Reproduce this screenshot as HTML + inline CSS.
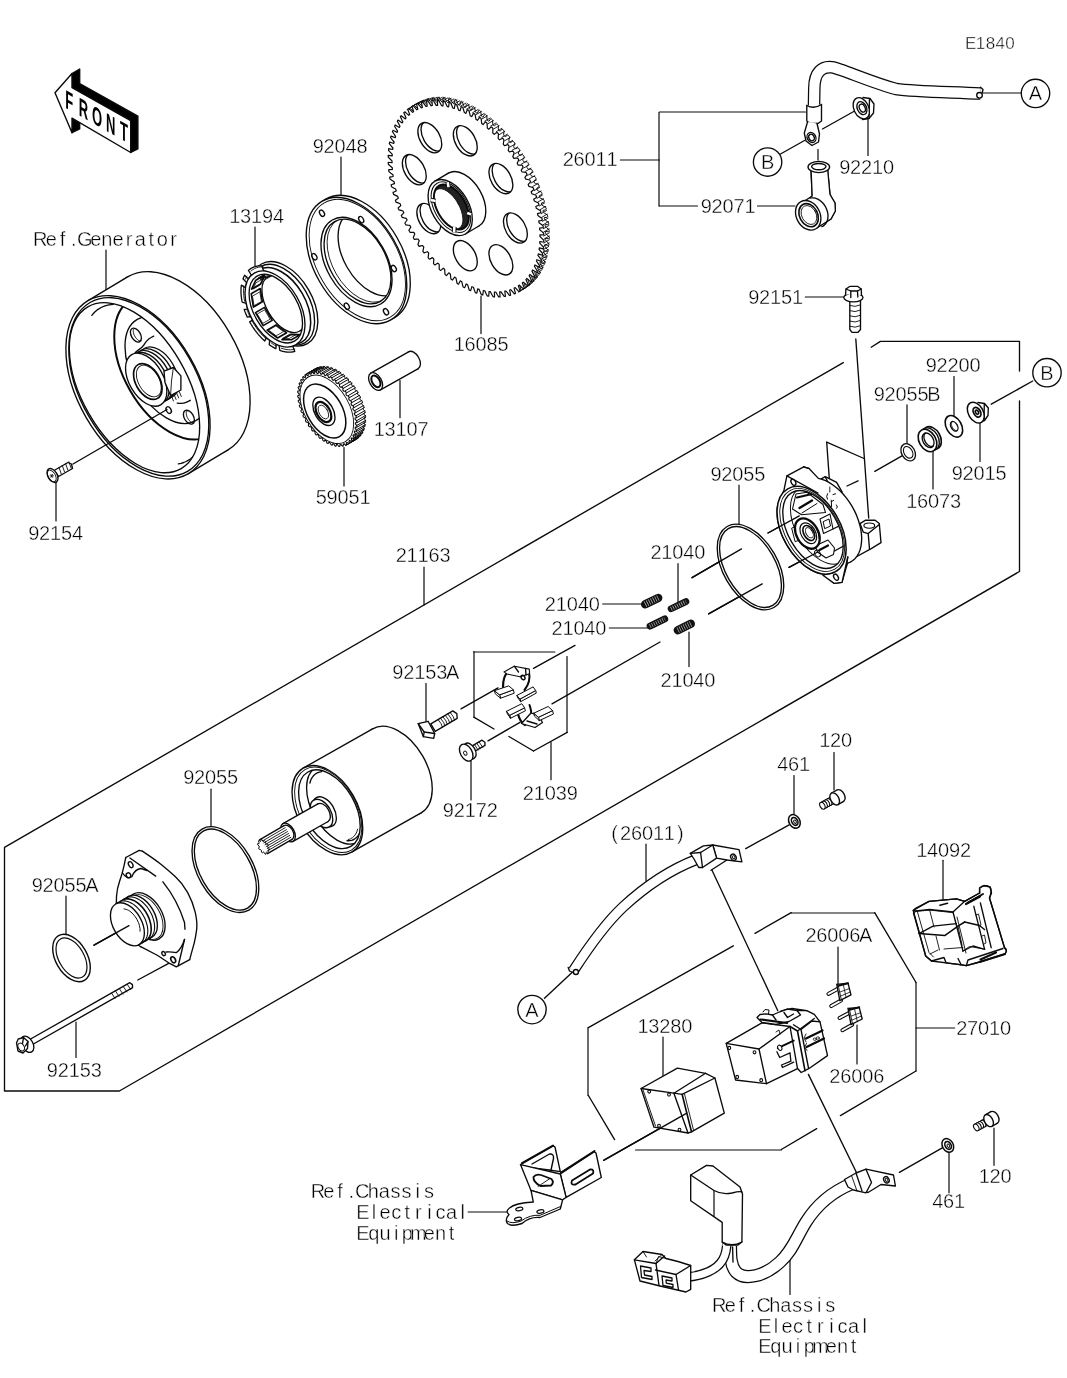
<!DOCTYPE html>
<html lang="en"><head><meta charset="utf-8"><title>Starter Motor - E1840</title>
<style>
html,body{margin:0;padding:0;background:#fff}
svg{display:block;will-change:transform}
svg path,svg ellipse,svg circle,svg polygon,svg rect{fill:none;stroke:#0a0a0a;stroke-width:1.35;stroke-linecap:round;stroke-linejoin:round}
svg text{font-family:"Liberation Sans",sans-serif;fill:#000;stroke:#fff;stroke-width:0.4px;text-anchor:middle}
</style></head><body>
<svg width="1067" height="1378" viewBox="0 0 1067 1378">
<rect x="0" y="0" width="1067" height="1378" style="fill:#fff;stroke:none"/>
<path d="M341 157L341 195.5" style="stroke-width:1.2"/>
<path d="M255 227L255 266.5" style="stroke-width:1.2"/>
<path d="M106 250L106 297" style="stroke-width:1.2"/>
<path d="M481 296L481 333.6" style="stroke-width:1.2"/>
<path d="M400 380.6L400 417.7" style="stroke-width:1.2"/>
<path d="M344 447.5L344 486" style="stroke-width:1.2"/>
<path d="M620.4 160L659.4 160" style="stroke-width:1.2"/>
<path d="M659 112.5L659 206" style="stroke-width:1.2"/>
<path d="M659.4 112L805.4 112" style="stroke-width:1.2"/>
<path d="M659.4 206L697.5 206" style="stroke-width:1.2"/>
<path d="M757.5 206L795 206" style="stroke-width:1.2"/>
<path d="M868 117L868 155.5" style="stroke-width:1.2"/>
<path d="M780.5 154L804.5 140.5"/>
<path d="M822.5 129L855.5 110.5"/>
<path d="M818 149.5L818 160" style="stroke-width:1.2"/>
<path d="M983 93L1021.4 93" style="stroke-width:1.2"/>
<path d="M805.3 297L844.2 297" style="stroke-width:1.2"/>
<path d="M855.8 339L868.7 518"/>
<path d="M954 376.6L954 415.6" style="stroke-width:1.2"/>
<path d="M907 404.8L907 444.5" style="stroke-width:1.2"/>
<path d="M933 451L933 489" style="stroke-width:1.2"/>
<path d="M980 422.5L980 461.5" style="stroke-width:1.2"/>
<path d="M1032.7 381L991.3 404.2"/>
<path d="M874.8 471.3L905.5 453.9"/>
<path d="M847 486L858 480.8"/>
<path d="M826.7 442.2L864 458.5"/>
<path d="M826.7 442.2L829.5 481.5"/>
<path d="M739 485L739 524" style="stroke-width:1.2"/>
<path d="M692 577.7L741.5 548.9"/>
<path d="M708.6 613.8L762.2 583.9"/>
<path d="M768 533L812 508.7"/>
<path d="M789 567.4L817.8 552"/>
<path d="M424 567.1L424 604.9" style="stroke-width:1.2"/>
<path d="M678 563.7L678 602" style="stroke-width:1.2"/>
<path d="M602.7 604L641.5 604" style="stroke-width:1.2"/>
<path d="M609.4 628L648.2 628" style="stroke-width:1.2"/>
<path d="M689 632L689 666.6" style="stroke-width:1.2"/>
<path d="M533.5 668.3L575 645.4"/>
<path d="M552 703.8L660 642"/>
<path d="M473.8 652L554.8 652" style="stroke-width:1.2"/>
<path d="M474 651.5L474 717.2" style="stroke-width:1.2"/>
<path d="M473.8 717.2L494 729"/>
<path d="M508.9 736.5L533.5 751"/>
<path d="M533.5 751L567.2 732.4"/>
<path d="M567 732.4L567 656.5" style="stroke-width:1.2"/>
<path d="M551 742.5L551 779.7" style="stroke-width:1.2"/>
<path d="M426 683.5L426 722.3" style="stroke-width:1.2"/>
<path d="M461 708.8L498 687.9"/>
<path d="M471 761L471 800" style="stroke-width:1.2"/>
<path d="M488 740.9L520 722.3"/>
<path d="M211 789.2L211 827.3" style="stroke-width:1.2"/>
<path d="M66 896L66 934.7" style="stroke-width:1.2"/>
<path d="M94 945.2L129 925.7"/>
<path d="M137.8 980L171.9 961.7"/>
<path d="M76 1022L76 1057.5" style="stroke-width:1.2"/>
<path d="M646 844L646 880.7" style="stroke-width:1.2"/>
<path d="M544.5 998.2L572.3 972.2"/>
<path d="M794 775.6L794 814.8" style="stroke-width:1.2"/>
<path d="M745.7 848.6L789.2 824.8"/>
<path d="M834 752.5L834 789.9" style="stroke-width:1.2"/>
<path d="M711.9 870L777.8 1010.7"/>
<path d="M943 860.3L943 899.3" style="stroke-width:1.2"/>
<path d="M838 947L838 984" style="stroke-width:1.2"/>
<path d="M857 1025L857 1064" style="stroke-width:1.2"/>
<path d="M916 1028L954.6 1028" style="stroke-width:1.2"/>
<path d="M663 1037L663 1075.6" style="stroke-width:1.2"/>
<path d="M755 933.3L791.2 912.7"/>
<path d="M791.2 913L874.7 913" style="stroke-width:1.2"/>
<path d="M874.7 912.7L916 982.5"/>
<path d="M916 982.5L916 1071" style="stroke-width:1.2"/>
<path d="M916 1071L840.4 1115.6"/>
<path d="M733.3 945.8L588.4 1027.6"/>
<path d="M588 1027.6L588 1095.5" style="stroke-width:1.2"/>
<path d="M588.4 1095.5L614.6 1139.6"/>
<path d="M635.6 1150L781.3 1150" style="stroke-width:1.2"/>
<path d="M781.3 1149.5L816.7 1128.7"/>
<path d="M603.6 1160.4L686.8 1113.1"/>
<path d="M808.4 1074.4L866 1192"/>
<path d="M899.4 1172.4L942.7 1147.6"/>
<path d="M949 1151.5L949 1192.8" style="stroke-width:1.2"/>
<path d="M994 1128L994 1165.3" style="stroke-width:1.2"/>
<path d="M468.2 1212L507 1212" style="stroke-width:1.2"/>
<path d="M790 1257.8L790 1294.4" style="stroke-width:1.2"/>
<path d="M843.3 362.6L4.5 847.4L4.5 1091L119.4 1091L1019.5 571.5L1019.5 401"/>
<path d="M871.2 347.2L880.4 341.4L1019.5 341.4L1019.5 371"/>
<circle cx="1035.5" cy="93.4" r="14.2" style="fill:#fff"/>
<text x="1035.5" y="100.4" font-size="20">A</text>
<circle cx="767.6" cy="162" r="14.2" style="fill:#fff"/>
<text x="767.6" y="169" font-size="20">B</text>
<circle cx="1047" cy="372.7" r="14.2" style="fill:#fff"/>
<text x="1047" y="379.7" font-size="20">B</text>
<circle cx="532" cy="1009.6" r="14.2" style="fill:#fff"/>
<text x="532" y="1016.6" font-size="20">A</text>
<path d="M72 73.5L79.7 69L79.7 83.5L137.9 116.2L137.9 148.8L130.7 152.5L130.7 120.7L72 87.7Z" style="fill:#000;"/>
<path d="M72 118.2L79.7 123L79.7 129L72 132.7Z" style="fill:#000;"/>
<path d="M55 92.7L72 73.5L72 87.7L130.7 120.7L130.7 152.5L72 118.2L72 132.7Z" style="fill:#fff;stroke-width:1.4;"/>
<text transform="matrix(0.5 0.281 0 1 69.2 110)" x="0" y="0" font-size="26" font-weight="bold" style="fill:#000;stroke:none">F</text>
<text transform="matrix(0.5 0.281 0 1 83.5 118)" x="0" y="0" font-size="26" font-weight="bold" style="fill:#000;stroke:none">R</text>
<text transform="matrix(0.5 0.281 0 1 97 125.6)" x="0" y="0" font-size="26" font-weight="bold" style="fill:#000;stroke:none">O</text>
<text transform="matrix(0.5 0.281 0 1 110.8 133.4)" x="0" y="0" font-size="26" font-weight="bold" style="fill:#000;stroke:none">N</text>
<text transform="matrix(0.5 0.281 0 1 124 140.8)" x="0" y="0" font-size="26" font-weight="bold" style="fill:#000;stroke:none">T</text>
<ellipse cx="178" cy="363.3" rx="60" ry="100" transform="rotate(-30 178 363.3)" style="fill:#fff;"/>
<path d="M188 473.9L228 449.9L128 276.7L88 300.7Z" style="fill:#fff;stroke:none;"/>
<path d="M188 473.9L228 449.9"/>
<path d="M88 300.7L128 276.7"/>
<ellipse cx="138" cy="387.3" rx="60" ry="100" transform="rotate(-30 138 387.3)" style="fill:#fff;"/>
<ellipse cx="138.8" cy="386.9" rx="58" ry="97.5" transform="rotate(-30 138.8 386.9)"/>
<ellipse cx="134.5" cy="387.7" rx="52.5" ry="93.4" transform="rotate(-30 134.5 387.7)" style="fill:#fff;"/>
<clipPath id="fwc"><ellipse cx="134.5" cy="387.7" rx="52.5" ry="93.4" transform="rotate(-30 134.5 387.7)"/></clipPath>
<g clip-path="url(#fwc)">
<ellipse cx="170.5" cy="367.5" rx="46.5" ry="78.5" transform="rotate(-30 170.5 367.5)" style="stroke-width:2.0;"/>
<ellipse cx="166.5" cy="370" rx="34" ry="58.5" transform="rotate(-30 166.5 370)"/>
<path d="M91.8 315.4L94.5 312.3L97.7 309.6L101.1 307.5L104.9 305.9L108.9 304.9L113.2 304.4"/>
<path d="M192.7 457L190.7 458.7L188.5 460.2L186.1 461.5L183.7 462.5L181.1 463.3L178.4 463.8"/>
<ellipse cx="135.9" cy="335.1" rx="4.6" ry="7.6" transform="rotate(-30 135.9 335.1)"/>
<path d="M140.9 340.9L140.5 340.9L140.1 340.9L139.6 340.8L139.1 340.6L138.6 340.4L138.1 340.1L137.6 339.7L137.1 339.2L136.6 338.8L136.2 338.2L135.7 337.7L135.3 337L134.9 336.4L134.5 335.7L134.2 335.1L133.9 334.4L133.7 333.7L133.5 333L133.4 332.4L133.3 331.8L133.3 331.2L133.3 330.6L133.4 330.1L133.6 329.7L133.8 329.3L134 328.9" style="stroke-width:1.0;"/>
<ellipse cx="188.9" cy="417.2" rx="4.6" ry="7.6" transform="rotate(-30 188.9 417.2)"/>
<path d="M193.9 423L193.5 423L193.1 423L192.6 422.9L192.1 422.7L191.6 422.5L191.1 422.2L190.6 421.8L190.1 421.3L189.6 420.9L189.2 420.3L188.7 419.8L188.3 419.1L187.9 418.5L187.5 417.8L187.2 417.2L186.9 416.5L186.7 415.8L186.5 415.1L186.4 414.5L186.3 413.9L186.3 413.3L186.3 412.7L186.4 412.2L186.6 411.8L186.8 411.4L187 411" style="stroke-width:1.0;"/>
<path d="M129.4 360.9Q134 353 138.2 350.1Q142.5 347.3 143.8 345.1Q145 343 146.8 340.9Q148.5 338.8 151.1 337.5L153.7 336.1"/>
<path d="M177.2 403.1Q183 404 186.7 402.1L190.3 400.3"/>
<ellipse cx="158.6" cy="372.5" rx="16.5" ry="28" transform="rotate(-30 158.6 372.5)" style="fill:#fff;"/>
<ellipse cx="155.5" cy="374.3" rx="16.5" ry="28" transform="rotate(-30 155.5 374.3)" style="fill:#fff;"/>
<ellipse cx="152.4" cy="376.1" rx="16.5" ry="28" transform="rotate(-30 152.4 376.1)" style="fill:#fff;"/>
<ellipse cx="149.3" cy="377.9" rx="16.5" ry="28" transform="rotate(-30 149.3 377.9)" style="fill:#fff;"/>
<ellipse cx="146.2" cy="379.7" rx="17" ry="29" transform="rotate(-30 146.2 379.7)" style="fill:#fff;"/>
<path d="M164 371.2L173.4 367.5L180.9 375.9L180.9 390L170.6 395.6L165 382.5Z" style="fill:#fff;"/>
<path d="M173.4 367.5L171.5 381L170.6 395.6" style="stroke-width:0.9;"/>
<path d="M171.5 396.2L173.5 401" style="stroke-width:0.9"/>
<path d="M174.1 394.7L176.1 399.5" style="stroke-width:0.9"/>
<path d="M176.7 393.2L178.7 398" style="stroke-width:0.9"/>
<path d="M179.3 391.7L181.3 396.5" style="stroke-width:0.9"/>
<ellipse cx="147.8" cy="381.5" rx="12" ry="19.5" transform="rotate(-30 147.8 381.5)" style="fill:#fff;stroke-width:1.7;"/>
<ellipse cx="148.8" cy="381" rx="10.3" ry="17.3" transform="rotate(-30 148.8 381)" style="stroke-width:0.9;"/>
<ellipse cx="168.7" cy="410.1" rx="2.3" ry="3.6" transform="rotate(-30 168.7 410.1)" style="fill:#fff;"/>
</g>
<path d="M56 479L56 521" style="stroke-width:1.2"/>
<path d="M73 464L167 409.5"/>
<path d="M54 470.5L68 462.5L71.5 464L72.5 468.5L58.5 476.5Z" style="fill:#fff;"/>
<path d="M59 467.5L61.2 473.7" style="stroke-width:0.9"/>
<path d="M62.3 465.6L64.5 471.8" style="stroke-width:0.9"/>
<path d="M65.6 463.7L67.8 469.9" style="stroke-width:0.9"/>
<path d="M68.9 461.8L71.1 468" style="stroke-width:0.9"/>
<ellipse cx="52.5" cy="475.5" rx="4.6" ry="7.6" transform="rotate(-30 52.5 475.5)" style="fill:#fff;"/>
<ellipse cx="51.8" cy="475.9" rx="3.6" ry="6.3" transform="rotate(-30 51.8 475.9)" style="stroke-width:0.9;"/>
<path d="M50.1 475.9L53.5 475.9" style="stroke-width:0.8"/>
<path d="M50.9 474.4L52.6 477.4" style="stroke-width:0.8"/>
<path d="M52.6 474.4L50.9 477.4" style="stroke-width:0.8"/>
<path d="M410.1 111.4L409.5 109.4L409.9 109L410.4 108.5L412.9 111L414.4 112L414.8 111.6L415.3 111.2L413.8 107.9L413.3 106L413.9 105.6L414.4 105.2L416.8 107.9L418.2 109L418.7 108.7L419.2 108.3L417.9 104.9L417.6 103.1L418.1 102.8L418.7 102.5L421.1 105.3L422.4 106.5L423 106.2L423.5 105.9L422.4 102.5L422.2 100.7L422.8 100.5L423.4 100.3L425.6 103.3L426.9 104.6L427.5 104.4L428 104.1L427.1 100.6L427.1 99L427.7 98.8L428.4 98.8L430.5 101.9L431.7 103.2L432.3 103.1L432.9 102.8L432.1 99.4L432.2 97.8L432.9 97.7L433.6 97.8L435.6 101.1L436.7 102.4L437.4 102.3L437.9 102.1L437.4 98.7L437.6 97.3L438.3 97.3L439.1 97.5L440.9 100.8L442 102.2L442.6 102.2L443.2 102L442.9 98.6L443.2 97.4L444 97.4L444.7 97.7L446.4 101.1L447.4 102.5L448.1 102.6L448.7 102.4L448.6 99.2L449 98L449.8 98.2L450.6 98.6L452 102.1L453 103.4L453.7 103.6L454.3 103.4L454.4 100.3L455 99.3L455.7 99.5L456.5 100.1L457.7 103.6L458.6 104.9L459.4 105.2L460 105L460.4 102L461 101.2L461.7 101.4L462.5 102.1L463.6 105.6L464.4 107L465.1 107.3L465.8 107.2L466.4 104.3L467.1 103.6L467.8 104L468.6 104.7L469.5 108.2L470.2 109.6L470.9 109.9L471.7 109.9L472.4 107.2L473.2 106.6L474 107.1L474.7 107.9L475.3 111.4L476 112.7L476.8 113.1L477.5 113.1L478.5 110.6L479.3 110.2L480.1 110.7L480.8 111.7L481.2 115L481.8 116.4L482.5 116.9L483.3 116.9L484.5 114.6L485.4 114.3L486.1 114.9L486.8 115.9L487 119.2L487.5 120.5L488.3 121L489.1 121.1L490.4 119L491.4 118.9L492.1 119.5L492.7 120.6L492.7 123.8L493.2 125.1L493.9 125.7L494.7 125.8L496.3 124L497.2 124L497.9 124.7L498.5 125.8L498.2 128.9L498.7 130.1L499.3 130.8L500.2 131L502 129.3L502.9 129.5L503.6 130.2L504.1 131.4L503.6 134.4L504 135.6L504.6 136.3L505.6 136.5L507.5 135.1L508.4 135.4L509.1 136.2L509.5 137.4L508.8 140.2L509.1 141.4L509.7 142.1L510.7 142.4L512.7 141.3L513.7 141.7L514.3 142.5L514.6 143.8L513.7 146.4L514 147.5L514.6 148.3L515.6 148.7L517.8 147.8L518.7 148.4L519.3 149.2L519.5 150.5L518.4 152.9L518.6 154L519.2 154.8L520.2 155.2L522.5 154.7L523.4 155.3L524 156.2L524.1 157.4L522.8 159.6L523 160.7L523.5 161.5L524.5 162L527 161.7L527.8 162.5L528.3 163.4L528.3 164.6L526.8 166.5L527 167.6L527.5 168.5L528.5 169.1L531.1 169L531.9 169.8L532.4 170.8L532.2 171.9L530.5 173.7L530.6 174.7L531.1 175.6L532.2 176.3L534.8 176.5L535.5 177.4L536 178.3L535.7 179.4L533.9 180.9L534 181.9L534.3 182.8L535.5 183.6L538.2 184.1L538.8 185L539.2 186L538.8 187L536.8 188.2L536.9 189.2L537.2 190.1L538.4 191L541.1 191.8L541.7 192.7L542 193.7L541.5 194.7L539.4 195.6L539.4 196.5L539.7 197.5L540.8 198.4L543.6 199.5L544.1 200.5L544.4 201.4L543.7 202.3L541.5 203L541.5 203.9L541.7 204.8L542.9 205.8L545.7 207.2L546.1 208.1L546.3 209.1L545.5 209.9L543.2 210.3L543.1 211.1L543.3 212.1L544.5 213.2L547.3 214.8L547.6 215.8L547.8 216.7L546.9 217.4L544.4 217.5L544.4 218.3L544.5 219.2L545.7 220.5L548.4 222.3L548.7 223.3L548.8 224.2L547.8 224.7L545.2 224.6L545.1 225.4L545.2 226.2L546.4 227.6L549.1 229.6L549.2 230.6L549.3 231.5L548.2 231.8L545.5 231.4L545.4 232.2L545.5 233.1L546.6 234.5L549.3 236.8L549.3 237.7L549.3 238.6L548.1 238.8L545.4 238.1L545.3 238.9L545.3 239.7L546.4 241.2L549 243.7L548.9 244.5L548.8 245.4L547.5 245.4L544.8 244.5L544.7 245.2L544.6 246L545.7 247.6L548.2 250.3L548.1 251.1L547.9 251.9L546.5 251.7L543.8 250.5L543.6 251.3L543.5 252L544.6 253.7L546.9 256.5L546.7 257.3L546.5 258L545 257.7L542.4 256.3L542.1 257L541.9 257.7L543 259.5L545.2 262.4L544.9 263.1L544.6 263.8L543.1 263.3L540.5 261.7L540.2 262.3L539.9 263L540.9 264.9L542.9 267.8L542.6 268.5L542.3 269.1L540.7 268.4L538.2 266.6L537.8 267.2L537.5 267.8L538.4 269.8L540.3 272.8L539.9 273.4L539.6 274L537.9 273.1L535.4 271.2L535.1 271.7L534.7 272.2L535.5 274.3L537.2 277.4L536.8 277.9L536.4 278.4L534.7 277.3L532.3 275.2L531.9 275.7L531.5 276.2L532.3 278.3L533.7 281.4L533.3 281.8L532.8 282.3L531.1 281L528.8 278.8L528.4 279.2L527.9 279.6L528.6 281.8L529.9 284.9L529.3 285.3L528.8 285.6L527.2 284.2L525 281.9L524.5 282.2L524 282.5L524.6 284.7L525.6 287.8L525.1 288.1L524.5 288.4L522.9 286.8L520.8 284.4L520.2 284.6L519.7 284.9L520.2 287.1L521.1 290.2L520.5 290.4L519.9 290.7" style="fill:#fff;stroke-width:1.0;"/>
<path d="M521.4 164.1L526.9 160.9" style="stroke-width:0.9"/>
<path d="M523.7 168L529.2 164.8" style="stroke-width:0.9"/>
<path d="M525.5 171.4L531 168.2" style="stroke-width:0.9"/>
<path d="M527.6 175.4L533.1 172.2" style="stroke-width:0.9"/>
<path d="M529.3 178.9L534.8 175.7" style="stroke-width:0.9"/>
<path d="M531.1 183L536.6 179.8" style="stroke-width:0.9"/>
<path d="M532.7 186.5L538.2 183.3" style="stroke-width:0.9"/>
<path d="M534.3 190.6L539.8 187.4" style="stroke-width:0.9"/>
<path d="M535.6 194.2L541.1 191" style="stroke-width:0.9"/>
<path d="M537 198.3L542.5 195.1" style="stroke-width:0.9"/>
<path d="M538.1 201.9L543.6 198.7" style="stroke-width:0.9"/>
<path d="M539.3 206L544.8 202.8" style="stroke-width:0.9"/>
<path d="M540.2 209.6L545.7 206.4" style="stroke-width:0.9"/>
<path d="M541.1 213.7L546.6 210.5" style="stroke-width:0.9"/>
<path d="M541.8 217.3L547.3 214.1" style="stroke-width:0.9"/>
<path d="M542.5 221.3L548 218.1" style="stroke-width:0.9"/>
<path d="M543 224.8L548.5 221.6" style="stroke-width:0.9"/>
<path d="M543.4 228.7L548.9 225.5" style="stroke-width:0.9"/>
<path d="M543.6 232.1L549.1 228.9" style="stroke-width:0.9"/>
<path d="M543.8 236L549.3 232.8" style="stroke-width:0.9"/>
<path d="M543.8 239.3L549.3 236.1" style="stroke-width:0.9"/>
<path d="M543.8 243L549.3 239.8" style="stroke-width:0.9"/>
<path d="M543.6 246.2L549.1 243" style="stroke-width:0.9"/>
<path d="M543.2 249.7L548.7 246.5" style="stroke-width:0.9"/>
<path d="M542.8 252.8L548.3 249.6" style="stroke-width:0.9"/>
<path d="M542.2 256.2L547.7 253" style="stroke-width:0.9"/>
<path d="M541.6 259L547.1 255.8" style="stroke-width:0.9"/>
<path d="M540.7 262.2L546.2 259" style="stroke-width:0.9"/>
<path d="M539.9 264.9L545.4 261.7" style="stroke-width:0.9"/>
<path d="M538.8 267.9L544.3 264.7" style="stroke-width:0.9"/>
<path d="M537.7 270.4L543.2 267.2" style="stroke-width:0.9"/>
<path d="M536.4 273.2L541.9 270" style="stroke-width:0.9"/>
<path d="M535.1 275.5L540.6 272.3" style="stroke-width:0.9"/>
<path d="M533.6 278L539.1 274.8" style="stroke-width:0.9"/>
<path d="M532.1 280L537.6 276.8" style="stroke-width:0.9"/>
<path d="M530.3 282.3L535.8 279.1" style="stroke-width:0.9"/>
<path d="M528.7 284.1L534.2 280.9" style="stroke-width:0.9"/>
<path d="M526.7 286.1L532.2 282.9" style="stroke-width:0.9"/>
<path d="M524.9 287.7L530.4 284.5" style="stroke-width:0.9"/>
<path d="M522.7 289.3L528.2 286.1" style="stroke-width:0.9"/>
<path d="M520.7 290.7L526.2 287.5" style="stroke-width:0.9"/>
<path d="M518.3 292L523.8 288.8" style="stroke-width:0.9"/>
<path d="M407.1 109.7L412.6 106.5" style="stroke-width:0.9"/>
<path d="M409.3 108.1L414.8 104.9" style="stroke-width:0.9"/>
<path d="M411.3 106.7L416.8 103.5" style="stroke-width:0.9"/>
<path d="M413.7 105.4L419.2 102.2" style="stroke-width:0.9"/>
<path d="M415.8 104.3L421.3 101.1" style="stroke-width:0.9"/>
<path d="M418.4 103.3L423.9 100.1" style="stroke-width:0.9"/>
<path d="M420.7 102.5L426.2 99.3" style="stroke-width:0.9"/>
<path d="M423.4 101.7L428.9 98.5" style="stroke-width:0.9"/>
<path d="M425.8 101.2L431.3 98" style="stroke-width:0.9"/>
<path d="M428.6 100.8L434.1 97.6" style="stroke-width:0.9"/>
<path d="M431.1 100.6L436.6 97.4" style="stroke-width:0.9"/>
<path d="M434.1 100.5L439.6 97.3" style="stroke-width:0.9"/>
<path d="M436.7 100.5L442.2 97.3" style="stroke-width:0.9"/>
<path d="M439.7 100.7L445.2 97.5" style="stroke-width:0.9"/>
<path d="M442.4 101.1L447.9 97.9" style="stroke-width:0.9"/>
<path d="M445.6 101.6L451.1 98.4" style="stroke-width:0.9"/>
<path d="M448.3 102.2L453.8 99" style="stroke-width:0.9"/>
<path d="M451.5 103.1L457 99.9" style="stroke-width:0.9"/>
<path d="M454.3 104L459.8 100.8" style="stroke-width:0.9"/>
<path d="M457.6 105.1L463.1 101.9" style="stroke-width:0.9"/>
<path d="M460.4 106.3L465.9 103.1" style="stroke-width:0.9"/>
<path d="M463.7 107.8L469.2 104.6" style="stroke-width:0.9"/>
<path d="M466.5 109.2L472 106" style="stroke-width:0.9"/>
<path d="M469.8 111L475.3 107.8" style="stroke-width:0.9"/>
<path d="M472.6 112.7L478.1 109.5" style="stroke-width:0.9"/>
<path d="M475.9 114.7L481.4 111.5" style="stroke-width:0.9"/>
<path d="M478.7 116.7L484.2 113.5" style="stroke-width:0.9"/>
<path d="M481.9 119L487.4 115.8" style="stroke-width:0.9"/>
<path d="M484.7 121.2L490.2 118" style="stroke-width:0.9"/>
<path d="M487.8 123.8L493.3 120.6" style="stroke-width:0.9"/>
<path d="M490.6 126.1L496.1 122.9" style="stroke-width:0.9"/>
<path d="M493.6 129L499.1 125.8" style="stroke-width:0.9"/>
<path d="M496.3 131.6L501.8 128.4" style="stroke-width:0.9"/>
<path d="M499.3 134.6L504.8 131.4" style="stroke-width:0.9"/>
<path d="M501.8 137.4L507.3 134.2" style="stroke-width:0.9"/>
<path d="M504.7 140.7L510.2 137.5" style="stroke-width:0.9"/>
<path d="M507.1 143.6L512.6 140.4" style="stroke-width:0.9"/>
<path d="M509.9 147.1L515.4 143.9" style="stroke-width:0.9"/>
<path d="M512.2 150.2L517.7 147" style="stroke-width:0.9"/>
<path d="M514.8 153.8L520.3 150.6" style="stroke-width:0.9"/>
<path d="M517 157L522.5 153.8" style="stroke-width:0.9"/>
<path d="M519.4 160.8L524.9 157.6" style="stroke-width:0.9"/>
<path d="M522.6 166.1L523.1 167L522.2 168.6L521.2 170.3L521.7 171.2L522.2 172L524.1 172.2L526.1 172.5L526.6 173.4L527.1 174.4L526 175.9L524.9 177.4L525.3 178.2L525.8 179.1L527.8 179.5L529.8 180L530.2 180.9L530.7 181.9L529.4 183.2L528.2 184.5L528.6 185.5L529 186.4L531 187L533.1 187.6L533.5 188.6L533.9 189.5L532.5 190.7L531.2 191.8L531.5 192.7L531.8 193.7L533.9 194.5L536 195.3L536.3 196.3L536.6 197.2L535.2 198.2L533.7 199.2L534 200.1L534.3 201L536.4 202L538.4 203L538.7 204L539 205L537.4 205.7L535.8 206.5L536.1 207.4L536.3 208.3L538.4 209.5L540.5 210.7L540.7 211.7L540.9 212.6L539.2 213.2L537.5 213.7L537.7 214.7L537.9 215.6L539.9 216.9L542 218.3L542.2 219.3L542.3 220.2L540.6 220.6L538.8 220.9L538.9 221.8L539 222.7L541.1 224.2L543.1 225.8L543.2 226.8L543.3 227.7L541.4 227.8L539.6 228L539.7 228.8L539.7 229.7L541.7 231.4L543.7 233.2L543.7 234.1L543.8 235L541.9 234.9L539.9 234.8L540 235.7L540 236.5L541.9 238.4L543.8 240.3L543.8 241.1L543.8 242L541.8 241.8L539.8 241.5L539.8 242.3L539.7 243.1L541.6 245.1L543.5 247.1L543.4 248L543.3 248.8L541.3 248.3L539.3 247.9L539.2 248.6L539.1 249.4L540.9 251.5L542.7 253.7L542.5 254.5L542.4 255.3L540.3 254.6L538.3 253.9L538.1 254.7L537.9 255.4L539.7 257.6L541.4 259.9L541.2 260.7L541 261.4L538.9 260.5L536.8 259.7L536.6 260.4L536.4 261L538 263.4L539.6 265.7L539.3 266.4L539.1 267.1L537 266.1L534.9 265L534.6 265.7L534.4 266.3L535.9 268.7L537.4 271.2L537.1 271.8L536.8 272.5L534.7 271.2L532.6 270L532.3 270.6L532 271.1L533.3 273.6L534.7 276.2L534.4 276.7L534 277.3L531.9 275.9L529.9 274.5L529.5 275L529.1 275.5L530.4 278.1L531.6 280.7L531.2 281.2L530.8 281.7L528.8 280.1L526.7 278.5L526.3 279L525.9 279.5L527 282L528.2 284.7L527.7 285.1L527.2 285.6L525.2 283.8L523.2 282.1L522.8 282.5L522.3 282.9L523.3 285.5L524.3 288.1L523.8 288.5L523.3 288.9L521.3 287L519.4 285.1L518.9 285.4L518.4 285.8L519.2 288.4L520.1 291L519.5 291.4L518.9 291.7L517.1 289.7L515.2 287.6L514.7 287.9L514.1 288.1L514.8 290.8L515.5 293.4L514.9 293.6L514.3 293.9L512.5 291.7L510.7 289.6L510.2 289.8L509.6 290L510.1 292.6L510.6 295.2L510 295.3L509.4 295.5L507.7 293.2L506 291L505.4 291.1L504.8 291.2L505.1 293.8L505.5 296.3L504.8 296.4L504.2 296.5L502.6 294.2L501 291.8L500.3 291.8L499.7 291.9L499.9 294.4L500.1 296.9L499.4 296.9L498.7 296.9L497.2 294.5L495.8 292L495.1 292L494.4 292L494.5 294.4L494.5 296.9L493.8 296.8L493.1 296.7L491.7 294.2L490.4 291.7L489.7 291.6L489 291.5L488.9 293.9L488.7 296.2L488 296.1L487.3 296L486 293.4L484.8 290.8L484.1 290.7L483.4 290.5L483.1 292.7L482.8 295L482.1 294.8L481.3 294.6L480.2 292L479.1 289.4L478.4 289.1L477.7 288.9L477.3 291L476.8 293.1L476 292.9L475.3 292.6L474.3 289.9L473.4 287.3L472.7 287L471.9 286.7L471.3 288.7L470.7 290.7L470 290.4L469.2 290L468.4 287.4L467.6 284.8L466.9 284.4L466.1 284L465.4 285.9L464.6 287.7L463.8 287.3L463.1 286.9L462.4 284.3L461.8 281.7L461 281.2L460.3 280.8L459.4 282.5L458.5 284.2L457.7 283.7L457 283.2L456.5 280.6L456 278L455.3 277.6L454.6 277.1L453.5 278.6L452.4 280.1L451.7 279.6L450.9 279L450.6 276.5L450.3 273.9L449.6 273.4L448.9 272.8L447.7 274.2L446.5 275.6L445.7 275L445 274.3L444.8 271.8L444.7 269.4L444 268.8L443.3 268.2L442 269.4L440.6 270.5L439.9 269.9L439.2 269.2L439.2 266.8L439.2 264.4L438.5 263.7L437.8 263.1L436.4 264.1L434.9 265L434.2 264.3L433.5 263.6L433.7 261.3L433.8 259L433.2 258.3L432.5 257.6L431 258.4L429.4 259.2L428.7 258.4L428.1 257.6L428.4 255.4L428.7 253.2L428.1 252.4L427.5 251.7L425.8 252.3L424.1 252.9L423.5 252.1L422.9 251.3L423.3 249.2L423.8 247.1L423.2 246.3L422.6 245.5L420.9 245.9L419.1 246.3L418.5 245.4L417.9 244.6L418.5 242.6L419.2 240.7L418.6 239.8L418.1 239L416.2 239.2L414.4 239.4L413.8 238.5L413.3 237.6L414 235.8L414.8 234L414.3 233.1L413.8 232.3L411.9 232.3L410 232.3L409.4 231.3L408.9 230.4L409.8 228.8L410.8 227.1L410.3 226.2L409.8 225.4L407.9 225.2L405.9 224.9L405.4 224L404.9 223L406 221.5L407.1 220L406.7 219.2L406.2 218.3L404.2 217.9L402.2 217.4L401.8 216.5L401.3 215.5L402.6 214.2L403.8 212.9L403.4 211.9L403 211L401 210.4L398.9 209.8L398.5 208.8L398.1 207.9L399.5 206.7L400.8 205.6L400.5 204.7L400.2 203.7L398.1 202.9L396 202.1L395.7 201.1L395.4 200.2L396.8 199.2L398.3 198.2L398 197.3L397.7 196.4L395.6 195.4L393.6 194.4L393.3 193.4L393 192.4L394.6 191.7L396.2 190.9L395.9 190L395.7 189.1L393.6 187.9L391.5 186.7L391.3 185.7L391.1 184.8L392.8 184.2L394.5 183.7L394.3 182.7L394.1 181.8L392.1 180.5L390 179.1L389.8 178.1L389.7 177.2L391.4 176.8L393.2 176.5L393.1 175.6L393 174.7L390.9 173.2L388.9 171.6L388.8 170.6L388.7 169.7L390.6 169.6L392.4 169.4L392.3 168.6L392.3 167.7L390.3 166L388.3 164.2L388.3 163.3L388.2 162.4L390.1 162.5L392.1 162.6L392 161.7L392 160.9L390.1 159L388.2 157.1L388.2 156.3L388.2 155.4L390.2 155.6L392.2 155.9L392.2 155.1L392.3 154.3L390.4 152.3L388.5 150.3L388.6 149.4L388.7 148.6L390.7 149.1L392.7 149.5L392.8 148.8L392.9 148L391.1 145.9L389.3 143.7L389.5 142.9L389.6 142.1L391.7 142.8L393.7 143.5L393.9 142.7L394.1 142L392.3 139.8L390.6 137.5L390.8 136.7L391 136L393.1 136.9L395.2 137.7L395.4 137L395.6 136.4L394 134L392.4 131.7L392.7 131L392.9 130.3L395 131.3L397.1 132.4L397.4 131.7L397.6 131.1L396.1 128.7L394.6 126.2L394.9 125.6L395.2 124.9L397.3 126.2L399.4 127.4L399.7 126.8L400 126.3L398.7 123.8L397.3 121.2L397.6 120.7L398 120.1L400.1 121.5L402.1 122.9L402.5 122.4L402.9 121.9L401.6 119.3L400.4 116.7L400.8 116.2L401.2 115.7L403.2 117.3L405.3 118.9L405.7 118.4L406.1 117.9L405 115.4L403.8 112.7L404.3 112.3L404.8 111.8L406.8 113.6L408.8 115.3L409.2 114.9L409.7 114.5L408.7 111.9L407.7 109.3L408.2 108.9L408.7 108.5L410.7 110.4L412.6 112.3L413.1 112L413.6 111.6L412.8 109L411.9 106.4L412.5 106L413.1 105.7L414.9 107.7L416.8 109.8L417.3 109.5L417.9 109.3L417.2 106.6L416.5 104L417.1 103.8L417.7 103.5L419.5 105.7L421.3 107.8L421.8 107.6L422.4 107.4L421.9 104.8L421.4 102.2L422 102.1L422.6 101.9L424.3 104.2L426 106.4L426.6 106.3L427.2 106.2L426.9 103.6L426.5 101.1L427.2 101L427.8 100.9L429.4 103.2L431 105.6L431.7 105.6L432.3 105.5L432.1 103L431.9 100.5L432.6 100.5L433.3 100.5L434.8 102.9L436.2 105.4L436.9 105.4L437.6 105.4L437.5 103L437.5 100.5L438.2 100.6L438.9 100.7L440.3 103.2L441.6 105.7L442.3 105.8L443 105.9L443.1 103.5L443.3 101.2L444 101.3L444.7 101.4L446 104L447.2 106.6L447.9 106.7L448.6 106.9L448.9 104.7L449.2 102.4L449.9 102.6L450.7 102.8L451.8 105.4L452.9 108L453.6 108.3L454.3 108.5L454.7 106.4L455.2 104.3L456 104.5L456.7 104.8L457.7 107.5L458.6 110.1L459.3 110.4L460.1 110.7L460.7 108.7L461.3 106.7L462 107L462.8 107.4L463.6 110L464.4 112.6L465.1 113L465.9 113.4L466.6 111.5L467.4 109.7L468.2 110.1L468.9 110.5L469.6 113.1L470.2 115.7L471 116.2L471.7 116.6L472.6 114.9L473.5 113.2L474.3 113.7L475 114.2L475.5 116.8L476 119.4L476.7 119.8L477.4 120.3L478.5 118.8L479.6 117.3L480.3 117.8L481.1 118.4L481.4 120.9L481.7 123.5L482.4 124L483.1 124.6L484.3 123.2L485.5 121.8L486.3 122.4L487 123.1L487.2 125.6L487.3 128L488 128.6L488.7 129.2L490 128L491.4 126.9L492.1 127.5L492.8 128.2L492.8 130.6L492.8 133L493.5 133.7L494.2 134.3L495.6 133.3L497.1 132.4L497.8 133.1L498.5 133.8L498.3 136.1L498.2 138.4L498.8 139.1L499.5 139.8L501 139L502.6 138.2L503.3 139L503.9 139.8L503.6 142L503.3 144.2L503.9 145L504.5 145.7L506.2 145.1L507.9 144.5L508.5 145.3L509.1 146.1L508.7 148.2L508.2 150.3L508.8 151.1L509.4 151.9L511.1 151.5L512.9 151.1L513.5 152L514.1 152.8L513.5 154.8L512.8 156.7L513.4 157.6L513.9 158.4L515.8 158.2L517.6 158L518.2 158.9L518.7 159.8L518 161.6L517.2 163.4L517.7 164.3L518.2 165.1L520.1 165.1L522 165.1L522.6 166Z" style="fill:#fff;stroke-width:1.2;"/>
<ellipse cx="429.8" cy="137.7" rx="10" ry="16.5" transform="rotate(-30 429.8 137.7)" style="fill:#fff;"/>
<clipPath id="h4298"><ellipse cx="429.8" cy="137.7" rx="10" ry="16.5" transform="rotate(-30 429.8 137.7)"/></clipPath>
<g clip-path="url(#h4298)">
<ellipse cx="433" cy="135.9" rx="10" ry="16.5" transform="rotate(-30 433 135.9)"/>
</g>
<ellipse cx="465.3" cy="140.8" rx="10" ry="16.5" transform="rotate(-30 465.3 140.8)" style="fill:#fff;"/>
<clipPath id="h4653"><ellipse cx="465.3" cy="140.8" rx="10" ry="16.5" transform="rotate(-30 465.3 140.8)"/></clipPath>
<g clip-path="url(#h4653)">
<ellipse cx="468.5" cy="139" rx="10" ry="16.5" transform="rotate(-30 468.5 139)"/>
</g>
<ellipse cx="414.3" cy="169.7" rx="10" ry="16.5" transform="rotate(-30 414.3 169.7)" style="fill:#fff;"/>
<clipPath id="h4143"><ellipse cx="414.3" cy="169.7" rx="10" ry="16.5" transform="rotate(-30 414.3 169.7)"/></clipPath>
<g clip-path="url(#h4143)">
<ellipse cx="417.5" cy="167.9" rx="10" ry="16.5" transform="rotate(-30 417.5 167.9)"/>
</g>
<ellipse cx="500.9" cy="178.6" rx="10" ry="16.5" transform="rotate(-30 500.9 178.6)" style="fill:#fff;"/>
<clipPath id="h5009"><ellipse cx="500.9" cy="178.6" rx="10" ry="16.5" transform="rotate(-30 500.9 178.6)"/></clipPath>
<g clip-path="url(#h5009)">
<ellipse cx="504.1" cy="176.8" rx="10" ry="16.5" transform="rotate(-30 504.1 176.8)"/>
</g>
<ellipse cx="428.8" cy="218.6" rx="10" ry="16.5" transform="rotate(-30 428.8 218.6)" style="fill:#fff;"/>
<clipPath id="h4288"><ellipse cx="428.8" cy="218.6" rx="10" ry="16.5" transform="rotate(-30 428.8 218.6)"/></clipPath>
<g clip-path="url(#h4288)">
<ellipse cx="432" cy="216.8" rx="10" ry="16.5" transform="rotate(-30 432 216.8)"/>
</g>
<ellipse cx="515.4" cy="228" rx="10" ry="16.5" transform="rotate(-30 515.4 228)" style="fill:#fff;"/>
<clipPath id="h5154"><ellipse cx="515.4" cy="228" rx="10" ry="16.5" transform="rotate(-30 515.4 228)"/></clipPath>
<g clip-path="url(#h5154)">
<ellipse cx="518.6" cy="226.2" rx="10" ry="16.5" transform="rotate(-30 518.6 226.2)"/>
</g>
<ellipse cx="465.3" cy="255.7" rx="10" ry="16.5" transform="rotate(-30 465.3 255.7)" style="fill:#fff;"/>
<clipPath id="h4653"><ellipse cx="465.3" cy="255.7" rx="10" ry="16.5" transform="rotate(-30 465.3 255.7)"/></clipPath>
<g clip-path="url(#h4653)">
<ellipse cx="468.5" cy="253.9" rx="10" ry="16.5" transform="rotate(-30 468.5 253.9)"/>
</g>
<ellipse cx="500.9" cy="259.8" rx="10" ry="16.5" transform="rotate(-30 500.9 259.8)" style="fill:#fff;"/>
<clipPath id="h5009"><ellipse cx="500.9" cy="259.8" rx="10" ry="16.5" transform="rotate(-30 500.9 259.8)"/></clipPath>
<g clip-path="url(#h5009)">
<ellipse cx="504.1" cy="258" rx="10" ry="16.5" transform="rotate(-30 504.1 258)"/>
</g>
<ellipse cx="463.7" cy="199.6" rx="18.5" ry="30.5" transform="rotate(-30 463.7 199.6)" style="fill:#fff;"/>
<path d="M465.4 234L478.9 226L448.4 173.2L434.9 181.2Z" style="fill:#fff;stroke:none;"/>
<path d="M465.4 234L478.9 226"/>
<path d="M434.9 181.2L448.4 173.2"/>
<ellipse cx="450.2" cy="207.6" rx="18.5" ry="30.5" transform="rotate(-30 450.2 207.6)" style="fill:#fff;"/>
<ellipse cx="450.9" cy="207.2" rx="16.4" ry="27.6" transform="rotate(-30 450.9 207.2)" style="stroke-width:1.0;"/>
<ellipse cx="451.4" cy="207" rx="14" ry="24.3" transform="rotate(-30 451.4 207)" style="fill:#fff;stroke-width:2.6;"/>
<clipPath id="hb"><ellipse cx="451.4" cy="207" rx="13.4" ry="23.6" transform="rotate(-30 451.4 207)"/></clipPath>
<g clip-path="url(#hb)">
<ellipse cx="451.4" cy="207" rx="14" ry="24" transform="rotate(-30 451.4 207)" style="fill:#222;"/>
<ellipse cx="448.2" cy="208.8" rx="11.2" ry="22.3" transform="rotate(-30 448.2 208.8)" style="fill:#fff;stroke-width:0.8;"/>
</g>
<path d="M447.7 182.1L448.5 187.1" style="stroke-width:4.6;stroke-linecap:butt"/>
<path d="M447.7 182.1L448.5 187.1" style="stroke:#fff;stroke-width:2.6;stroke-linecap:butt"/>
<path d="M471.1 214.4L467.2 213" style="stroke-width:4.6;stroke-linecap:butt"/>
<path d="M471.1 214.4L467.2 213" style="stroke:#fff;stroke-width:2.6;stroke-linecap:butt"/>
<path d="M454.1 232.3L454.3 226.9" style="stroke-width:4.6;stroke-linecap:butt"/>
<path d="M454.1 232.3L454.3 226.9" style="stroke:#fff;stroke-width:2.6;stroke-linecap:butt"/>
<path d="M430.7 200L435.6 201" style="stroke-width:4.6;stroke-linecap:butt"/>
<path d="M430.7 200L435.6 201" style="stroke:#fff;stroke-width:2.6;stroke-linecap:butt"/>
<ellipse cx="360" cy="258.5" rx="42.5" ry="68.5" transform="rotate(-30 360 258.5)" style="fill:#fff;"/>
<ellipse cx="356.5" cy="260.5" rx="42.5" ry="68.5" transform="rotate(-30 356.5 260.5)" style="fill:#fff;"/>
<ellipse cx="357.3" cy="260" rx="40.5" ry="66" transform="rotate(-30 357.3 260)" style="stroke-width:0.9;"/>
<ellipse cx="356.5" cy="262" rx="30" ry="48.5" transform="rotate(-30 356.5 262)" style="fill:#fff;"/>
<ellipse cx="357.5" cy="261.5" rx="28" ry="46" transform="rotate(-30 357.5 261.5)"/>
<clipPath id="r48"><ellipse cx="357.5" cy="261.5" rx="28" ry="46" transform="rotate(-30 357.5 261.5)"/></clipPath>
<g clip-path="url(#r48)">
<ellipse cx="371.5" cy="253.5" rx="28" ry="46" transform="rotate(-30 371.5 253.5)"/>
<ellipse cx="360.5" cy="260" rx="28" ry="46" transform="rotate(-30 360.5 260)" style="stroke-width:0.8;"/>
</g>
<ellipse cx="322" cy="213.2" rx="2.2" ry="3.4" transform="rotate(-30 322 213.2)"/>
<ellipse cx="361.2" cy="219.6" rx="2.2" ry="3.4" transform="rotate(-30 361.2 219.6)"/>
<ellipse cx="314.4" cy="256.7" rx="2.2" ry="3.4" transform="rotate(-30 314.4 256.7)"/>
<ellipse cx="393.8" cy="268.5" rx="2.2" ry="3.4" transform="rotate(-30 393.8 268.5)"/>
<ellipse cx="346.8" cy="306.2" rx="2.2" ry="3.4" transform="rotate(-30 346.8 306.2)"/>
<ellipse cx="386" cy="311.8" rx="2.2" ry="3.4" transform="rotate(-30 386 311.8)"/>
<ellipse cx="284.4" cy="303.8" rx="28" ry="46" transform="rotate(-30 284.4 303.8)" style="fill:#fff;"/>
<ellipse cx="282.8" cy="304.7" rx="26.5" ry="44" transform="rotate(-30 282.8 304.7)" style="fill:#fff;"/>
<ellipse cx="280.4" cy="306.1" rx="25.2" ry="42" transform="rotate(-30 280.4 306.1)" style="fill:#fff;stroke-width:1.5;"/>
<path d="M295 345.4L294.8 345.5L294.6 345.5L294.4 345.6L294.2 345.7L294 345.8L293.8 345.9L293.6 346L293.3 346.1L293.1 346.1L292.9 346.2L292.7 346.3L294.8 351.4L294.6 351.5L294.3 351.5L294.1 351.6L293.8 351.7L293.6 351.7L293.3 351.8L293.1 351.8L292.8 351.9L292.6 351.9L292.3 352L292 352L291.8 352L291.5 352.1L291.3 352.1L291 352.1L290.7 352.1L290.4 352.2L290.2 352.2L289.9 352.2L289.6 352.2L289.4 352.2L289.1 352.2L288.8 352.2L288.5 352.2L288.3 352.2L288 352.2L287.7 352.1L287.4 352.1L287.1 352.1L286.8 352.1L286.6 352L286.3 352L286 352L285.7 351.9L285.4 351.9L285.1 351.8L284.8 351.8L284.5 351.7L284.3 351.7L284 351.6L283.7 351.6L283.4 351.5L283.1 351.4L282.8 351.3L282.5 351.3L282.2 351.2L281.9 351.1L281.6 351L281.3 350.9L281 350.8L280.7 350.7L280.4 350.6L280.1 350.5L279.8 350.4L279 345.4L278.7 345.3L278.4 345.2L278.2 345.1L277.9 345L277.6 344.9L277.4 344.7L277.1 344.6L276.8 344.5L276.6 344.4L276.3 344.3L276 344.1L275.9 348.7L275.6 348.6L275.3 348.4L275 348.3L274.7 348.1L274.4 347.9L274.1 347.8L273.8 347.6L273.5 347.4L273.2 347.2L272.9 347.1L272.6 346.9L272.3 346.7L272 346.5L271.7 346.3L271.3 346.1L271 345.9L270.7 345.7L270.4 345.5L270.1 345.3L269.8 345.1L269.5 344.9L269.2 344.7L269.7 340.2L269.4 340L269.1 339.8L268.9 339.6L268.6 339.4L268.4 339.2L268.1 339L267.8 338.8L267.6 338.6L267.3 338.4L267.1 338.2L266.8 338L266.6 337.7L266.3 337.5L264.8 341.1L264.5 340.8L264.3 340.6L264 340.3L263.7 340.1L263.4 339.8L263.1 339.5L262.8 339.2L262.5 339L262.3 338.7L262 338.4L261.7 338.1L261.4 337.8L261.2 337.6L260.9 337.3L260.6 337L260.3 336.7L260.1 336.4L259.8 336.1L259.5 335.8L259.2 335.5L259 335.2L258.7 334.9L258.4 334.6L258.2 334.2L257.9 333.9L257.7 333.6L257.4 333.3L257.1 333L256.9 332.7L256.6 332.3L256.4 332L256.1 331.7L255.9 331.4L255.6 331L255.4 330.7L255.1 330.4L254.9 330L254.6 329.7L254.4 329.4L254.1 329L253.9 328.7L253.7 328.3L253.4 328L253.2 327.6L253 327.3L252.7 326.9L252.5 326.6L252.3 326.2L252.1 325.9L251.8 325.5L251.6 325.2L251.4 324.8L251.2 324.5L251 324.1L250.8 323.7L250.5 323.4L250.3 323L250.1 322.7L249.9 322.3L249.7 321.9L252.5 320.1L252.4 319.7L252.2 319.4L252 319.1L251.9 318.8L251.7 318.4L251.5 318.1L251.4 317.8L251.2 317.4L251 317.1L250.9 316.8L250.7 316.5L247.3 317.1L247.1 316.7L246.9 316.3L246.7 315.9L246.6 315.6L246.4 315.2L246.2 314.8L246.1 314.4L245.9 314L245.8 313.7L245.6 313.3L245.5 312.9L245.3 312.5L245.2 312.1L245 311.7L244.9 311.4L244.7 311L244.6 310.6L244.5 310.2L244.3 309.8L244.2 309.4L247.8 309.1L247.6 308.7L247.5 308.4L247.4 308L247.3 307.7L247.2 307.4L247.1 307L247 306.7L246.9 306.3L246.8 306L246.7 305.7L246.7 305.3L246.6 305L246.5 304.7L246.4 304.3L246.3 304L246.2 303.7L246.2 303.3L242.2 302.2L242.1 301.8L242 301.4L242 301L241.9 300.7L241.8 300.3L241.8 299.9L241.7 299.5L241.6 299.2L241.6 298.8L241.5 298.4L241.5 298L241.4 297.7L241.4 297.3L241.3 296.9L241.3 296.6L241.2 296.2L241.2 295.8L241.2 295.5L241.1 295.1L241.1 294.7L241.1 294.4L241.1 294L241 293.6L241 293.3L241 292.9L241 292.6L241 292.2L241 291.9L241 291.5L241 291.2L241 290.8L241 290.5L241 290.1L241 289.8L241 289.4L241 289.1L241 288.7L241 288.4L241.1 288.1L241.1 287.7L241.1 287.4L241.1 287.1L241.2 286.7L241.2 286.4L241.3 286.1L241.3 285.8L241.3 285.4L241.4 285.1L245.4 287.7L245.5 287.4L245.5 287.1L245.6 286.8L245.6 286.6L245.7 286.3L245.7 286L245.8 285.8L245.8 285.5L245.9 285.2L246 285L246 284.7L246.1 284.4L246.2 284.2L246.3 283.9L246.3 283.7L246.4 283.4L246.5 283.2L246.6 282.9L246.7 282.7L243 278.8L243.1 278.6L243.2 278.3L243.3 278L243.4 277.8L243.5 277.5L243.6 277.2L243.7 277L243.8 276.7L244 276.5L244.1 276.2L244.2 276L244.4 275.7L244.5 275.5L244.6 275.2L248.4 279L248.5 278.8L248.6 278.6L248.7 278.4L248.9 278.2L249 278L249.1 277.8L249.3 277.6L249.4 277.4L249.5 277.3L249.7 277.1L249.8 276.9L250 276.7L250.1 276.5L250.3 276.4L250.4 276.2L250.6 276L250.7 275.8L250.9 275.7L251.1 275.5L251.2 275.4L251.4 275.2L248.4 270.5L248.6 270.3L248.8 270.1L249 270L249.2 269.8L249.4 269.6L249.6 269.5L249.8 269.3L250 269.2L250.2 269L250.4 268.9L250.6 268.7L250.8 268.6L251 268.5L251.2 268.3L251.4 268.2L251.7 268.1L251.9 268L252.1 267.8L252.3 267.7L252.6 267.6L252.8 267.5L253 267.4L253.3 267.3L253.5 267.2L253.7 267.1L254 267L254.2 266.9L254.4 266.8L254.7 266.8L254.9 266.7L255.2 266.6L255.4 266.5L255.7 266.5L255.9 266.4L256.2 266.3L256.4 266.3L256.7 266.2L256.9 266.2L257.2 266.1L257.4 266.1L257.7 266L258 266L258.2 266L258.5 265.9L258.8 265.9L259 265.9L259.3 265.9L259.6 265.8L259.8 265.8L260.1 265.8L260.4 265.8L260.7 265.8L260.9 265.8L261.2 265.8L261.5 265.8L261.8 265.8L263.6 271L263.8 271L264.1 271L264.3 271L264.6 271.1L264.8 271.1L265.1 271.1L265.3 271.1L265.6 271.2L265.8 271.2" style="fill:#fff;stroke-width:1.3;"/>
<path d="M250.9 271.1L252.6 269.8L254.4 268.7L256.4 267.8L258.5 267.2L260.7 266.9L263 266.8" style="stroke-width:0.9;"/>
<path d="M245.5 279.1L245.7 278.6L245.9 278.1L246.2 277.6L246.4 277.1L246.6 276.6L246.9 276.1" style="stroke-width:0.9;"/>
<path d="M244.6 301.2L244.1 298.5L243.8 295.8L243.6 293.2L243.5 290.7L243.6 288.2L243.8 285.8" style="stroke-width:0.9;"/>
<path d="M249.4 315.6L248.9 314.6L248.4 313.5L248 312.4L247.6 311.3L247.1 310.2L246.8 309.2" style="stroke-width:0.9;"/>
<path d="M266 338.7L263.4 336.2L260.9 333.6L258.5 330.7L256.3 327.7L254.2 324.5L252.2 321.2" style="stroke-width:0.9;"/>
<path d="M276.6 346.2L275.7 345.7L274.7 345.2L273.8 344.6L272.8 344L271.9 343.4L271 342.8" style="stroke-width:0.9;"/>
<path d="M294.8 349.1L292.8 349.6L290.6 349.8L288.3 349.7L286 349.5L283.6 348.9L281.2 348.2" style="stroke-width:0.9;"/>
<ellipse cx="275" cy="309" rx="25" ry="41.5" transform="rotate(-30 275 309)" style="fill:#fff;"/>
<ellipse cx="275.8" cy="308.6" rx="22" ry="37.5" transform="rotate(-30 275.8 308.6)" style="fill:#fff;stroke-width:1.3;"/>
<clipPath id="c94"><ellipse cx="275.8" cy="308.6" rx="22" ry="37.5" transform="rotate(-30 275.8 308.6)"/></clipPath>
<g clip-path="url(#c94)">
<ellipse cx="283.6" cy="304" rx="17.2" ry="31.5" transform="rotate(-30 283.6 304)" style="stroke-width:1.3;"/>
<path d="M291.4 339.8L300.4 334.6L290.9 334.5L281.9 339.7Z" style="stroke-width:1.6;"/>
<path d="M289.6 338.3L296.6 334.3L289.8 334.2L282.8 338.2Z" style="stroke-width:0.8;"/>
<path d="M277.6 338L286.6 332.8L276.1 324.9L267.1 330.1Z" style="stroke-width:1.6;"/>
<path d="M276.5 335.6L283.5 331.6L275.9 325.9L268.9 329.9Z" style="stroke-width:0.8;"/>
<path d="M263.2 325.6L272.2 320.4L264.5 307.4L255.5 312.6Z" style="stroke-width:1.6;"/>
<path d="M263.1 323.2L270.1 319.2L264.6 309.8L257.6 313.8Z" style="stroke-width:0.8;"/>
<path d="M253.4 307.1L262.4 301.9L260.2 288.5L251.2 293.7Z" style="stroke-width:1.6;"/>
<path d="M254.4 305.5L261.4 301.5L259.8 291.9L252.8 295.9Z" style="stroke-width:0.8;"/>
<path d="M251.6 289.1L260.6 283.9L264.8 275L255.8 280.2Z" style="stroke-width:1.6;"/>
<path d="M253.4 288.9L260.4 284.9L263.3 278.6L256.3 282.6Z" style="stroke-width:0.8;"/>
<path d="M258.6 278.1L267.6 272.9L276.7 271.8L267.7 277Z" style="stroke-width:1.6;"/>
<path d="M260.5 279.4L267.5 275.4L273.9 274.7L266.9 278.7Z" style="stroke-width:0.8;"/>
<path d="M286.2 277.9L287.2 278.7L288.3 279.5L289.3 280.4L290.4 281.3L291.4 282.3L292.4 283.3" style="stroke-width:1.8;"/>
<path d="M299 291.7L299.8 293L300.6 294.3L301.4 295.7L302.1 297L302.7 298.4L303.4 299.8" style="stroke-width:1.8;"/>
<path d="M306.6 309.7L306.9 311L307.1 312.4L307.3 313.7L307.4 315L307.5 316.3L307.5 317.5" style="stroke-width:1.8;"/>
</g>
<path d="M312.7 371.8L313.8 372.6L314.1 372.3L314.4 372L314.3 371.2L313.9 369.8L314.2 369.5L314.6 369.3L315.3 369.7L316.3 370.6L316.6 370.4L317 370.2L317 369.3L316.7 368L317.1 367.8L317.5 367.7L318.3 368.2L319.2 369.2L319.6 369.1L320 368.9L320.1 368.2L320 366.9L320.4 366.8L320.8 366.7L321.6 367.3L322.4 368.5L322.9 368.4L323.3 368.4L323.5 367.6L323.5 366.5L324 366.5L324.5 366.5L325.1 367.2L325.9 368.4L326.4 368.4L326.8 368.5L327.1 367.8L327.3 366.7L327.8 366.8L328.3 366.9L328.9 367.7L329.6 369L330.1 369.1L330.5 369.2L330.9 368.6L331.2 367.7L331.7 367.9L332.2 368L332.8 368.9L333.4 370.2L333.9 370.4L334.4 370.6L334.8 370.1L335.3 369.3L335.8 369.6L336.3 369.8L336.8 370.8L337.2 372.1L337.7 372.3L338.2 372.6L338.7 372.2L339.3 371.6L339.8 371.9L340.3 372.3L340.7 373.3L341.1 374.5L341.5 374.9L342 375.2L342.6 375L343.3 374.5L343.8 374.9L344.3 375.3L344.6 376.3L344.8 377.5L345.3 378L345.7 378.4L346.4 378.2L347.2 377.9L347.6 378.4L348.1 378.9L348.3 379.9L348.4 381L348.8 381.5L349.2 382L350 382L350.8 381.9L351.2 382.4L351.7 382.9L351.7 383.9L351.7 385L352.1 385.5L352.5 386L353.3 386.1L354.2 386.2L354.6 386.8L355 387.3L354.9 388.3L354.8 389.3L355.1 389.8L355.5 390.4L356.3 390.6L357.2 390.9L357.6 391.5L357.9 392.1L357.7 392.9L357.5 393.8L357.8 394.4L358.1 395L358.9 395.4L359.8 395.8L360.1 396.4L360.4 397L360.1 397.8L359.8 398.6L360 399.2L360.3 399.8L361.1 400.3L362 400.8L362.3 401.5L362.5 402.1L362.1 402.8L361.6 403.4L361.8 404L362 404.6L362.9 405.3L363.7 406L363.9 406.6L364.1 407.2L363.6 407.8L363 408.3L363.1 408.9L363.3 409.5L364.1 410.2L364.9 411L365.1 411.7L365.2 412.3L364.5 412.7L363.9 413.1L363.9 413.6L364 414.2L364.8 415.1L365.6 416L365.6 416.6L365.7 417.2L364.9 417.4L364.2 417.7L364.2 418.2L364.2 418.8L365 419.7L365.7 420.7L365.7 421.3L365.6 421.8L364.8 421.9L364.1 422L364 422.5L363.9 423L364.6 424.1L365.2 425.1L365.1 425.6L365 426.2L364.2 426.1L363.4 426L363.3 426.5L363.1 426.9L363.7 428.1L364.2 429.1L364.1 429.6L363.9 430.1L363 429.8L362.2 429.6L362 430L361.8 430.4L362.3 431.6L362.7 432.7L362.5 433.1L362.3 433.5L361.3 433L360.5 432.7L360.2 433.1L360 433.4L360.4 434.6L360.7 435.7L360.4 436L360.1 436.3L359.2 435.7L358.3 435.3L358.1 435.6L357.7 435.8L358.1 437.1L358.2 438.1L357.9 438.3L357.5 438.6L356.6 437.8L355.8 437.3L355.4 437.5L355.1 437.7L355.3 438.9L355.3 439.8L354.9 440L354.6 440.2" style="fill:#fff;stroke-width:1.0;"/>
<path d="M348.2 395.6L357 390.5" style="stroke-width:1.0"/>
<path d="M349.4 397.7L358.2 392.6" style="stroke-width:1.0"/>
<path d="M350.8 400.4L359.6 395.3" style="stroke-width:1.0"/>
<path d="M351.9 402.6L360.7 397.5" style="stroke-width:1.0"/>
<path d="M353.1 405.5L361.9 400.4" style="stroke-width:1.0"/>
<path d="M353.9 407.7L362.7 402.6" style="stroke-width:1.0"/>
<path d="M354.8 410.6L363.6 405.5" style="stroke-width:1.0"/>
<path d="M355.4 412.8L364.2 407.7" style="stroke-width:1.0"/>
<path d="M356.1 415.7L364.9 410.6" style="stroke-width:1.0"/>
<path d="M356.4 417.8L365.2 412.7" style="stroke-width:1.0"/>
<path d="M356.8 420.6L365.6 415.5" style="stroke-width:1.0"/>
<path d="M356.9 422.7L365.7 417.6" style="stroke-width:1.0"/>
<path d="M356.9 425.4L365.7 420.3" style="stroke-width:1.0"/>
<path d="M356.8 427.3L365.6 422.2" style="stroke-width:1.0"/>
<path d="M356.5 429.8L365.3 424.7" style="stroke-width:1.0"/>
<path d="M356.2 431.6L365 426.5" style="stroke-width:1.0"/>
<path d="M355.6 433.8L364.4 428.7" style="stroke-width:1.0"/>
<path d="M355 435.5L363.8 430.4" style="stroke-width:1.0"/>
<path d="M354.1 437.4L362.9 432.3" style="stroke-width:1.0"/>
<path d="M353.3 438.8L362.1 433.7" style="stroke-width:1.0"/>
<path d="M352.1 440.5L360.9 435.4" style="stroke-width:1.0"/>
<path d="M351.1 441.6L359.9 436.5" style="stroke-width:1.0"/>
<path d="M349.7 443L358.5 437.9" style="stroke-width:1.0"/>
<path d="M348.5 443.8L357.3 438.7" style="stroke-width:1.0"/>
<path d="M346.9 444.8L355.7 439.7" style="stroke-width:1.0"/>
<path d="M345.5 445.4L354.3 440.3" style="stroke-width:1.0"/>
<path d="M304.9 375L313.7 369.9" style="stroke-width:1.0"/>
<path d="M306.1 374.2L314.9 369.1" style="stroke-width:1.0"/>
<path d="M307.7 373.2L316.5 368.1" style="stroke-width:1.0"/>
<path d="M309.1 372.6L317.9 367.5" style="stroke-width:1.0"/>
<path d="M311 372L319.8 366.9" style="stroke-width:1.0"/>
<path d="M312.5 371.8L321.3 366.7" style="stroke-width:1.0"/>
<path d="M314.5 371.6L323.3 366.5" style="stroke-width:1.0"/>
<path d="M316.1 371.6L324.9 366.5" style="stroke-width:1.0"/>
<path d="M318.2 371.8L327 366.7" style="stroke-width:1.0"/>
<path d="M319.9 372.1L328.7 367" style="stroke-width:1.0"/>
<path d="M322.2 372.7L331 367.6" style="stroke-width:1.0"/>
<path d="M323.9 373.3L332.7 368.2" style="stroke-width:1.0"/>
<path d="M326.2 374.3L335 369.2" style="stroke-width:1.0"/>
<path d="M327.9 375.2L336.7 370.1" style="stroke-width:1.0"/>
<path d="M330.2 376.5L339 371.4" style="stroke-width:1.0"/>
<path d="M332 377.7L340.8 372.6" style="stroke-width:1.0"/>
<path d="M334.2 379.4L343 374.3" style="stroke-width:1.0"/>
<path d="M335.9 380.8L344.7 375.7" style="stroke-width:1.0"/>
<path d="M338.1 382.7L346.9 377.6" style="stroke-width:1.0"/>
<path d="M339.7 384.4L348.5 379.3" style="stroke-width:1.0"/>
<path d="M341.7 386.6L350.5 381.5" style="stroke-width:1.0"/>
<path d="M343.2 388.4L352 383.3" style="stroke-width:1.0"/>
<path d="M345.1 390.9L353.9 385.8" style="stroke-width:1.0"/>
<path d="M346.5 392.9L355.3 387.8" style="stroke-width:1.0"/>
<path d="M348.8 396.6L349.1 397.2L348.9 398.1L348.7 399L349 399.5L349.3 400.1L350.2 400.5L351.1 400.9L351.4 401.5L351.6 402.2L351.3 402.9L351 403.7L351.2 404.3L351.5 404.9L352.4 405.4L353.2 406L353.5 406.6L353.7 407.2L353.3 407.9L352.8 408.5L353 409.1L353.2 409.7L354.1 410.4L354.9 411.1L355.1 411.7L355.3 412.3L354.8 412.9L354.2 413.4L354.3 414L354.5 414.6L355.3 415.3L356.1 416.1L356.3 416.8L356.4 417.4L355.7 417.8L355.1 418.1L355.1 418.7L355.2 419.3L356 420.2L356.8 421.1L356.8 421.7L356.9 422.3L356.2 422.5L355.4 422.7L355.4 423.3L355.4 423.9L356.2 424.8L356.9 425.8L356.9 426.4L356.8 426.9L356.1 427L355.3 427.1L355.2 427.6L355.1 428.1L355.8 429.1L356.4 430.2L356.4 430.7L356.2 431.2L355.4 431.2L354.6 431.1L354.5 431.6L354.3 432L354.9 433.1L355.5 434.2L355.3 434.7L355.1 435.1L354.3 434.9L353.4 434.7L353.2 435.1L353 435.5L353.5 436.6L353.9 437.7L353.7 438.1L353.5 438.5L352.6 438.2L351.7 437.8L351.5 438.1L351.2 438.5L351.6 439.6L351.9 440.7L351.6 441.1L351.4 441.4L350.5 440.9L349.6 440.4L349.3 440.7L349 440.9L349.2 442L349.5 443.1L349.1 443.4L348.8 443.7L347.9 443L347 442.4L346.7 442.6L346.3 442.8L346.5 443.8L346.6 444.9L346.2 445.1L345.8 445.3L344.9 444.5L344.1 443.7L343.7 443.9L343.3 444L343.3 445L343.3 446L342.9 446.1L342.5 446.2L341.7 445.3L340.9 444.5L340.5 444.5L340 444.5L339.9 445.5L339.8 446.4L339.3 446.4L338.9 446.4L338.1 445.5L337.4 444.5L336.9 444.5L336.5 444.4L336.3 445.3L336 446.2L335.5 446.1L335 446L334.4 445L333.7 443.9L333.3 443.8L332.8 443.7L332.4 444.4L332.1 445.2L331.6 445L331.1 444.8L330.5 443.8L329.9 442.7L329.5 442.5L329 442.3L328.5 442.9L328.1 443.5L327.5 443.3L327 443L326.6 441.9L326.1 440.8L325.6 440.5L325.1 440.2L324.6 440.8L324 441.2L323.5 440.9L323 440.6L322.6 439.4L322.3 438.3L321.8 438L321.3 437.6L320.7 438L320 438.4L319.5 438L319.1 437.5L318.8 436.4L318.6 435.3L318.1 434.9L317.6 434.5L316.9 434.7L316.2 434.9L315.7 434.5L315.3 434L315.1 432.9L315 431.8L314.6 431.3L314.1 430.9L313.4 430.9L312.6 431L312.1 430.5L311.7 429.9L311.7 428.9L311.7 427.9L311.3 427.4L310.9 426.8L310 426.8L309.2 426.7L308.8 426.1L308.4 425.5L308.5 424.5L308.6 423.6L308.3 423L307.9 422.5L307.1 422.3L306.2 422L305.8 421.4L305.5 420.8L305.7 419.9L305.9 419L305.6 418.5L305.3 417.9L304.4 417.5L303.5 417.1L303.2 416.5L303 415.8L303.3 415.1L303.6 414.3L303.4 413.7L303.1 413.1L302.2 412.6L301.4 412L301.1 411.4L300.9 410.8L301.3 410.1L301.8 409.5L301.6 408.9L301.4 408.3L300.5 407.6L299.7 406.9L299.5 406.3L299.3 405.7L299.8 405.1L300.4 404.6L300.3 404L300.1 403.4L299.3 402.7L298.5 401.9L298.3 401.2L298.2 400.6L298.9 400.2L299.5 399.9L299.5 399.3L299.4 398.7L298.6 397.8L297.8 396.9L297.8 396.3L297.7 395.7L298.4 395.5L299.2 395.3L299.2 394.7L299.2 394.1L298.4 393.2L297.7 392.2L297.7 391.6L297.8 391.1L298.5 391L299.3 390.9L299.4 390.4L299.5 389.9L298.8 388.9L298.2 387.8L298.2 387.3L298.4 386.8L299.2 386.8L300 386.9L300.1 386.4L300.3 386L299.7 384.9L299.1 383.8L299.3 383.3L299.5 382.9L300.3 383.1L301.2 383.3L301.4 382.9L301.6 382.5L301.1 381.4L300.7 380.3L300.9 379.9L301.1 379.5L302 379.8L302.9 380.2L303.1 379.9L303.4 379.5L303 378.4L302.7 377.3L303 376.9L303.2 376.6L304.1 377.1L305 377.6L305.3 377.3L305.6 377.1L305.4 376L305.1 374.9L305.5 374.6L305.8 374.3L306.7 375L307.6 375.6L307.9 375.4L308.3 375.2L308.1 374.2L308 373.1L308.4 372.9L308.8 372.7L309.7 373.5L310.5 374.3L310.9 374.1L311.3 374L311.3 373L311.3 372L311.7 371.9L312.1 371.8L312.9 372.7L313.7 373.5L314.1 373.5L314.6 373.5L314.7 372.5L314.8 371.6L315.3 371.6L315.7 371.6L316.5 372.5L317.2 373.5L317.7 373.5L318.1 373.6L318.3 372.7L318.6 371.8L319.1 371.9L319.6 372L320.2 373L320.9 374.1L321.3 374.2L321.8 374.3L322.2 373.6L322.5 372.8L323 373L323.5 373.2L324.1 374.2L324.7 375.3L325.1 375.5L325.6 375.7L326.1 375.1L326.5 374.5L327.1 374.7L327.6 375L328 376.1L328.5 377.2L329 377.5L329.5 377.8L330 377.2L330.6 376.8L331.1 377.1L331.6 377.4L332 378.6L332.3 379.7L332.8 380L333.3 380.4L333.9 380L334.6 379.6L335.1 380L335.5 380.5L335.8 381.6L336 382.7L336.5 383.1L337 383.5L337.7 383.3L338.4 383.1L338.9 383.5L339.3 384L339.5 385.1L339.6 386.2L340 386.7L340.5 387.1L341.2 387.1L342 387L342.5 387.5L342.9 388.1L342.9 389.1L342.9 390.1L343.3 390.6L343.7 391.2L344.6 391.2L345.4 391.3L345.8 391.9L346.2 392.5L346.1 393.5L346 394.4L346.3 395L346.7 395.5L347.5 395.7L348.4 396L348.8 396.6Z" style="fill:#fff;stroke-width:1.1;"/>
<ellipse cx="326.8" cy="409.3" rx="22.3" ry="37.3" transform="rotate(-30 326.8 409.3)" style="stroke-width:0.9;"/>
<ellipse cx="324.7" cy="411" rx="17.5" ry="29.5" transform="rotate(-30 324.7 411)" style="stroke-width:1.5;"/>
<ellipse cx="323.9" cy="411.3" rx="9.2" ry="15.5" transform="rotate(-30 323.9 411.3)"/>
<ellipse cx="323.4" cy="412" rx="6.6" ry="11" transform="rotate(-30 323.4 412)" style="stroke-width:2.2;"/>
<ellipse cx="323.4" cy="412" rx="4.3" ry="7.5" transform="rotate(-30 323.4 412)" style="stroke-width:0.8;"/>
<ellipse cx="413.4" cy="360.2" rx="5.9" ry="9.7" transform="rotate(-30 413.4 360.2)" style="fill:#fff;"/>
<path d="M380.5 389.9L418.3 368.6L408.6 351.8L370.8 373.1Z" style="fill:#fff;stroke:none;"/>
<path d="M380.5 389.9L418.3 368.6"/>
<path d="M370.8 373.1L408.6 351.8"/>
<ellipse cx="375.6" cy="381.5" rx="5.9" ry="9.7" transform="rotate(-30 375.6 381.5)" style="fill:#fff;"/>
<ellipse cx="375.9" cy="381.3" rx="3.8" ry="6.4" transform="rotate(-30 375.9 381.3)" style="stroke-width:2.0;"/>
<path d="M814 106 L814.3 88 C814.5 72 822 66 832 67.3 C842 69 870 82 896 89 C915 91.8 950 92 980.5 93.5" style="stroke-width:12.6;stroke-linecap:butt"/>
<path d="M814 106 L814.3 88 C814.5 72 822 66 832 67.3 C842 69 870 82 896 89 C915 91.8 950 92 980.5 93.5" style="stroke:#fff;stroke-width:10.1;stroke-linecap:butt"/>
<ellipse cx="979.5" cy="95.3" rx="2.8" ry="2.8" transform="rotate(0 979.5 95.3)" style="fill:#fff;"/>
<path d="M980.5 87.3L983 89.5L982.3 92.5"/>
<path d="M806.8 105.5L806.8 121L810 123.5L818 123.5L821.5 121L821.5 104.5" style="fill:#fff;"/>
<path d="M806.8 105.5 Q814 109.5 821.5 104.5" />
<path d="M807.5 122L804.3 133L806 141L812 145.5L818.5 142L819.5 134L817 123.5" style="fill:#fff;"/>
<ellipse cx="811.5" cy="137.5" rx="4.2" ry="5.2" transform="rotate(-30 811.5 137.5)"/>
<ellipse cx="811.5" cy="137.5" rx="2.6" ry="3.4" transform="rotate(-30 811.5 137.5)"/>
<path d="M863 97.5L870 98.5L874 104L873.5 113L869 118.5L862.5 119.5" style="fill:#fff;"/>
<path d="M869.5 99L869 118"/>
<ellipse cx="861.3" cy="108.3" rx="7.4" ry="11.2" transform="rotate(-25 861.3 108.3)" style="fill:#fff;"/>
<ellipse cx="861.9" cy="108.1" rx="4.6" ry="6.8" transform="rotate(-25 861.9 108.1)"/>
<ellipse cx="862.3" cy="108.1" rx="2.8" ry="4.2" transform="rotate(-25 862.3 108.1)"/>
<path d="M811 170L812.2 196L806 201L800 207" style="fill:none;"/>
<path d="M827.6 170L830 194.5L835 203L835.2 211L831 219L818 226.5"/>
<path d="M811 168L827.6 168L830 194.5L835 203L835.2 211L831 219L818 227L806 230L797 222L796 210L802 202L812.2 196Z" style="fill:#fff;stroke:none;"/>
<path d="M811 168.5L812.2 196L805 200.8"/>
<path d="M827.6 168.5L830 194.5L835 203L835.4 211L831 219L816.5 228.3"/>
<path d="M810.1 198.1L811.3 197.9L812.6 197.8L813.9 197.9L815.2 198.1L816.5 198.6L817.8 199.1L819.1 199.9L820.3 200.7L821.5 201.7L822.6 202.8L823.7 204L824.6 205.3L825.5 206.7L826.2 208.2L826.8 209.7L827.3 211.2L827.7 212.8L827.9 214.3L828 215.8L827.9 217.3L827.8 218.8L827.4 220.1L827 221.4L826.4 222.6L825.7 223.7L824.9 224.6L824 225.4L823 226.1L821.9 226.6"/>
<ellipse cx="808.2" cy="215.3" rx="11.8" ry="15.5" transform="rotate(-28 808.2 215.3)" style="fill:#fff;"/>
<ellipse cx="808.6" cy="215.2" rx="9" ry="12.2" transform="rotate(-28 808.6 215.2)" style="stroke-width:1.6;"/>
<ellipse cx="809" cy="215" rx="7.2" ry="10" transform="rotate(-28 809 215)" style="stroke-width:0.8;"/>
<ellipse cx="818.8" cy="167" rx="10.8" ry="5.6" transform="rotate(0 818.8 167)" style="fill:#fff;"/>
<ellipse cx="818.8" cy="166.6" rx="7.2" ry="3.1" transform="rotate(0 818.8 166.6)"/>
<path d="M849.8 300L849.8 329.5L852 332.3L858 332.3L860.5 329.5L860.5 300" style="fill:#fff;"/>
<path d="M849.8 305.5 Q855 307.7 860.5 304.9" style="stroke-width:0.9"/>
<path d="M849.8 310.7 Q855 312.9 860.5 310.1" style="stroke-width:0.9"/>
<path d="M849.8 315.9 Q855 318.1 860.5 315.3" style="stroke-width:0.9"/>
<path d="M849.8 321.1 Q855 323.3 860.5 320.5" style="stroke-width:0.9"/>
<path d="M849.8 326.3 Q855 328.5 860.5 325.7" style="stroke-width:0.9"/>
<ellipse cx="853.4" cy="297.6" rx="9.6" ry="4.2" transform="rotate(0 853.4 297.6)" style="fill:#fff;"/>
<path d="M845.5 294.5L846 289L850 286.3L857.5 286.3L861.2 289L861.5 295" style="fill:#fff;"/>
<path d="M850.8 291L850.8 297.5"/>
<path d="M857.5 291L857.8 297"/>
<path d="M846 289L850.8 291L857.5 291L861.2 289"/>
<ellipse cx="908.2" cy="452.3" rx="6.6" ry="9.2" transform="rotate(-30 908.2 452.3)" style="fill:#fff;stroke-width:1.3;"/>
<ellipse cx="908.2" cy="452.3" rx="4.2" ry="6.3" transform="rotate(-30 908.2 452.3)" style="stroke-width:1.1;"/>
<ellipse cx="932" cy="437.9" rx="8.3" ry="12" transform="rotate(-30 932 437.9)" style="fill:#fff;stroke-width:1.6;"/>
<ellipse cx="930" cy="439.1" rx="8.3" ry="12" transform="rotate(-30 930 439.1)" style="fill:#fff;"/>
<ellipse cx="927.5" cy="440.5" rx="8.3" ry="12" transform="rotate(-30 927.5 440.5)" style="fill:#fff;stroke-width:1.6;"/>
<ellipse cx="928.1" cy="440.3" rx="5.2" ry="7.8" transform="rotate(-30 928.1 440.3)"/>
<path d="M933 446.4L932.4 446.5L931.8 446.5L931.2 446.5L930.6 446.3L929.9 446.1L929.3 445.8L928.6 445.4L928 445L927.4 444.5L926.9 443.9L926.3 443.3L925.8 442.6L925.4 441.9L925 441.2L924.7 440.4L924.4 439.6L924.2 438.9L924 438.1L924 437.3L923.9 436.6L924 435.9L924.1 435.2L924.3 434.6L924.6 434L924.9 433.5L925.3 433.1"/>
<ellipse cx="953.9" cy="426.3" rx="7.6" ry="11.6" transform="rotate(-30 953.9 426.3)" style="fill:#fff;stroke-width:1.6;"/>
<ellipse cx="954.2" cy="426.3" rx="3.2" ry="5.2" transform="rotate(-30 954.2 426.3)"/>
<path d="M957.3 430.5L956.9 430.6L956.6 430.6L956.2 430.5L955.8 430.4L955.4 430.3L955 430L954.5 429.8L954.1 429.5L953.8 429.1L953.4 428.7L953 428.3L952.7 427.9L952.4 427.4L952.2 426.9L951.9 426.4L951.7 425.9L951.6 425.4L951.5 424.9L951.4 424.4L951.4 423.9L951.4 423.4L951.5 423L951.6 422.6L951.7 422.2L951.9 421.9L952.2 421.6" style="stroke-width:0.9;"/>
<path d="M978 402.5L984.5 403.5L988.3 408L988 415.5L984.5 420.5L979 421.5" style="fill:#fff;"/>
<path d="M984.3 404L984 420"/>
<ellipse cx="975.8" cy="412.6" rx="7.4" ry="11.2" transform="rotate(-30 975.8 412.6)" style="fill:#fff;stroke-width:1.5;"/>
<ellipse cx="977" cy="412.2" rx="3.4" ry="5.2" transform="rotate(-30 977 412.2)" style="stroke-width:1.8;"/>
<ellipse cx="977" cy="412.2" rx="1.4" ry="2.2" transform="rotate(-30 977 412.2)" style="stroke-width:1.6;"/>
<path d="M860 523.6L865.6 520.2L875.1 520.2L879.3 523.6L881 542.7L871.2 548.6L855 557.5L850 540Z" style="fill:#fff;"/>
<path d="M860 523.6L863.3 532.2L868.2 533.6L879.3 524.5"/>
<path d="M868.2 533.6L869.5 549"/>
<ellipse cx="869.3" cy="525.6" rx="5.4" ry="2.6" transform="rotate(0 869.3 525.6)" style="stroke-width:1.1;"/>
<path d="M818 482L821.7 478.6L825.3 476.7L836.6 482.4L842.2 492.1L838 500Z" style="fill:#fff;"/>
<path d="M825.3 476.7L830 487"/>
<path d="M803.7 466.8L808.8 468.3L818.4 478.4L822 479.3L825.6 480.7L829.3 482.6L832.9 485L836.5 487.7L840 490.8L843.3 494.3L846.5 498.1L849.4 502.2L852.1 506.4L854.5 510.9L856.6 515.4L858.3 520L859.7 524.7L860.8 529.2L861.4 533.7L861.7 538.1L861.5 542.2L861 546.1L860.1 549.7L858.8 553L857.2 555.9L855.2 558.4L852.9 560.5L850.3 562.1L847.4 563.3L842 582.3L834.1 583.4" style="fill:#fff;"/>
<path d="M803.7 466.8L786.9 475.8L784 490L777.4 506.5L777.1 509.6L777.1 512.8L777.2 516.2L777.6 519.6L778.3 523.1L779.1 526.6L780.2 530.2L781.4 533.7L782.9 537.3L784.5 540.8L786.4 544.2L788.4 547.6L790.5 550.8L792.8 553.9L795.3 556.8L797.8 559.5L800.4 562.1L803.1 564.4L805.9 566.6L808.7 568.5L811.5 570.1L814.3 571.4L817.1 572.5L819.8 573.4L822.5 573.9L825.2 574.1L827.7 574.1L830.1 573.7L832.4 573.1L834.6 572.2L822.9 575.2L834.1 583.4L842 582.3L847.8 557" style="fill:#fff;"/>
<ellipse cx="811.6" cy="530.3" rx="28.8" ry="47.8" transform="rotate(-30 811.6 530.3)" style="fill:#fff;stroke-width:1.5;"/>
<ellipse cx="812.2" cy="530" rx="26.8" ry="45.3" transform="rotate(-30 812.2 530)" style="stroke-width:0.9;"/>
<ellipse cx="813" cy="529.5" rx="24.8" ry="42.5" transform="rotate(-30 813 529.5)"/>
<path d="M803.7 466.8L808.8 468.3"/>
<path d="M786.9 475.8L818 493"/>
<path d="M847.8 557L846.5 566"/>
<ellipse cx="793.4" cy="482.3" rx="2.1" ry="3.3" transform="rotate(-30 793.4 482.3)"/>
<ellipse cx="836" cy="577.2" rx="2.1" ry="3.3" transform="rotate(-30 836 577.2)"/>
<clipPath id="ecv"><ellipse cx="813" cy="529.5" rx="24.8" ry="42.5" transform="rotate(-30 813 529.5)"/></clipPath>
<g clip-path="url(#ecv)">
<ellipse cx="820.6" cy="525.3" rx="24.8" ry="42.5" transform="rotate(-30 820.6 525.3)" style="stroke-width:1.0;"/>
<path d="M796 494L807 492.3L823 504.5L825.5 512.5L801.5 514.8L792.5 509Z" style="stroke-width:1.1;"/>
<path d="M797 497.5L813 493.8" style="stroke-width:2.2;"/>
<path d="M799.5 508L812 500.5" style="stroke-width:2.4;"/>
<path d="M802 513L817 503.5" style="stroke-width:1.0;"/>
<path d="M820 519L830 514L833 529L823.5 533.5Z" style="stroke-width:1.1;"/>
<path d="M823.5 521.5L829 519L830.5 526L825 528.5Z" style="stroke-width:1.0;"/>
<path d="M815 546L828 540L834.5 548L833.5 554.5L826 558L817.5 552Z" style="stroke-width:1.1;"/>
<path d="M819.5 550L828 545.5" style="stroke-width:2.2;"/>
<ellipse cx="817.5" cy="553.5" rx="2.6" ry="3.6" transform="rotate(-30 817.5 553.5)" style="stroke-width:1.0;"/>
<path d="M792 528L797 526L800 540L795.5 541.5Z" style="stroke-width:1.0;"/>
<path d="M833 529L848 521.5"/>
<path d="M834.5 551L850 542.5"/>
</g>
<ellipse cx="807.3" cy="533.6" rx="10.8" ry="16.3" transform="rotate(-30 807.3 533.6)" style="fill:#fff;stroke-width:2.3;"/>
<ellipse cx="808.3" cy="533.2" rx="7.2" ry="11.2" transform="rotate(-30 808.3 533.2)" style="stroke-width:1.2;"/>
<ellipse cx="808.8" cy="533" rx="5" ry="8.2" transform="rotate(-30 808.8 533)" style="stroke-width:1.6;"/>
<ellipse cx="809.3" cy="532.8" rx="3.2" ry="5.6" transform="rotate(-30 809.3 532.8)" style="stroke-width:0.9;"/>
<path d="M827.6 493.6 Q825.6 496.4 827.4 499.2" style="stroke-width:1"/>
<path d="M833 494.6L835.6 493.8" style="stroke-width:1.0"/>
<path d="M831.2 500.2L831.6 506.6" style="stroke-width:1.0;"/>
<path d="M831.4 501.6L833.6 500.4" style="stroke-width:1.0;"/>
<path d="M836.4 505L837.4 507L836.4 508.4" style="stroke-width:1.0;"/>
<path d="M829.8 487L829.8 492" style="stroke-width:0.9"/>
<path d="M645.2 604.3L658.2 597.9" style="stroke:#111;stroke-width:8.4;stroke-linecap:round"/>
<path d="M645.2 604.3L658.2 597.9" style="stroke:#bbb;stroke-width:5.8;stroke-linecap:butt;stroke-dasharray:0.7 1.6"/>
<path d="M671.1 608.8L685.9 601.6" style="stroke:#111;stroke-width:6.8;stroke-linecap:round"/>
<path d="M671.1 608.8L685.9 601.6" style="stroke:#bbb;stroke-width:4.2;stroke-linecap:butt;stroke-dasharray:0.7 1.6"/>
<path d="M650 626.1L664.8 618.9" style="stroke:#111;stroke-width:6.8;stroke-linecap:round"/>
<path d="M650 626.1L664.8 618.9" style="stroke:#bbb;stroke-width:4.2;stroke-linecap:butt;stroke-dasharray:0.7 1.6"/>
<path d="M677.8 630.2L690.8 623.8" style="stroke:#111;stroke-width:8.4;stroke-linecap:round"/>
<path d="M677.8 630.2L690.8 623.8" style="stroke:#bbb;stroke-width:5.8;stroke-linecap:butt;stroke-dasharray:0.7 1.6"/>
<path d="M503 687 Q503 676 508 672" style="stroke-width:2.2"/>
<path d="M529 672 Q531 682 524.5 690" style="stroke-width:2"/>
<path d="M518 714 Q520 722 525 725" style="stroke-width:2.2"/>
<path d="M529.5 705 Q532 712 531 716" style="stroke-width:2"/>
<path d="M504 671.9L514.3 666.2L529.3 669.1L529.5 673.7L520 676.8L507 674Z" style="fill:#fff;stroke-width:1.1;"/>
<path d="M514.3 666.2L518.5 672"/>
<path d="M525.5 668.5L526 675"/>
<ellipse cx="523" cy="677.5" rx="1.8" ry="2.4" transform="rotate(-30 523 677.5)" style="stroke-width:1.4;"/>
<path d="M521.5 723.5L535 727.5L542.5 722.5L538.5 715.5L531 713Z" style="fill:#fff;stroke-width:1.3;"/>
<path d="M527 721L537 724"/>
<path d="M499.8 694.8L513.4 689.8L514.2 693.2L500.6 698.2Z" style="fill:#fff;stroke-width:1.0;"/>
<path d="M494.7 690.6L499.8 694.8L500.6 698.2L495.5 694Z" style="fill:#fff;stroke-width:1.0;"/>
<path d="M494.7 690.6L508.7 685.9L513.4 689.8L499.8 694.8Z" style="fill:#fff;stroke-width:1.0;"/>
<path d="M520.2 699L535.7 690.5L536.3 693.1L520.8 701.6Z" style="fill:#fff;stroke-width:1.0;"/>
<path d="M517.2 695.3L520.2 699L520.8 701.6L517.8 697.9Z" style="fill:#fff;stroke-width:1.0;"/>
<path d="M517.2 695.3L533.1 686.9L535.7 690.5L520.2 699Z" style="fill:#fff;stroke-width:1.0;"/>
<path d="M509.8 715.2L524.6 707.8L525.4 710.8L510.6 718.2Z" style="fill:#fff;stroke-width:1.0;"/>
<path d="M506.8 711.2L509.8 715.2L510.6 718.2L507.6 714.2Z" style="fill:#fff;stroke-width:1.0;"/>
<path d="M506.8 711.2L521.8 703.7L524.6 707.8L509.8 715.2Z" style="fill:#fff;stroke-width:1.0;"/>
<path d="M538.6 717.2L552.6 710.6L553.4 714L539.4 720.6Z" style="fill:#fff;stroke-width:1.0;"/>
<path d="M534 713.1L538.6 717.2L539.4 720.6L534.8 716.5Z" style="fill:#fff;stroke-width:1.0;"/>
<path d="M534 713.1L548.1 706.5L552.6 710.6L538.6 717.2Z" style="fill:#fff;stroke-width:1.0;"/>
<path d="M430.8 723.9L452.8 710.9L456.8 713.6L457.2 718.3L435.2 731.3Z" style="fill:#fff;"/>
<path d="M438.1 719.6 Q442.1 724.1 442.4 727" style="stroke-width:0.9"/>
<path d="M440.5 718.2 Q444.5 722.7 444.9 725.6" style="stroke-width:0.9"/>
<path d="M442.9 716.7 Q446.9 721.2 447.3 724.2" style="stroke-width:0.9"/>
<path d="M445.3 715.3 Q449.3 719.8 449.7 722.7" style="stroke-width:0.9"/>
<path d="M447.8 713.9 Q451.7 718.4 452.1 721.3" style="stroke-width:0.9"/>
<path d="M450.2 712.5 Q454.2 717 454.5 719.9" style="stroke-width:0.9"/>
<path d="M418.2 723.6L428.1 721.3L434.7 733.5L433.7 738.4L423.4 736.7Z" style="fill:#fff;"/>
<path d="M418.2 723.6L424.2 732L434.7 733.5"/>
<path d="M424.2 732L423.4 736.7"/>
<path d="M470.5 746.8L482 740.2L484.9 742.2L485 745.4L473.5 752Z" style="fill:#fff;"/>
<path d="M474.5 744.5L478.1 750.1" style="stroke-width:0.9"/>
<path d="M476.8 743.2L480.4 748.8" style="stroke-width:0.9"/>
<path d="M479.1 741.9L482.7 747.4" style="stroke-width:0.9"/>
<ellipse cx="469.8" cy="751" rx="5.4" ry="8.6" transform="rotate(-30 469.8 751)" style="fill:#fff;"/>
<ellipse cx="466.2" cy="752.6" rx="5.8" ry="9.2" transform="rotate(-30 466.2 752.6)" style="fill:#fff;stroke-width:1.4;"/>
<ellipse cx="465.3" cy="753.2" rx="1.6" ry="2.2" transform="rotate(-30 465.3 753.2)" style="stroke-width:0.9;"/>
<ellipse cx="750.5" cy="567" rx="27.3" ry="46.8" transform="rotate(-30 750.5 567)" style="fill:#fff;"/>
<ellipse cx="750.5" cy="567" rx="24.9" ry="44.4" transform="rotate(-30 750.5 567)" style="fill:#fff;"/>
<ellipse cx="225.4" cy="869.6" rx="27.5" ry="46.8" transform="rotate(-30 225.4 869.6)" style="fill:#fff;"/>
<ellipse cx="225.4" cy="869.6" rx="25.1" ry="44.4" transform="rotate(-30 225.4 869.6)" style="fill:#fff;"/>
<ellipse cx="71.5" cy="958" rx="15.8" ry="25.8" transform="rotate(-30 71.5 958)" style="fill:#fff;stroke-width:1.4;"/>
<ellipse cx="71.5" cy="958" rx="12.6" ry="22" transform="rotate(-30 71.5 958)" style="fill:#fff;stroke-width:1.2;"/>
<path d="M692 577.7L741.5 548.9"/>
<path d="M708.6 613.8L762.2 583.9"/>
<path d="M768 533L799.3 515.9"/>
<path d="M789 567.4L817.8 552"/>
<ellipse cx="396.9" cy="770.8" rx="29.7" ry="48.5" transform="rotate(-30 396.9 770.8)" style="fill:#fff;"/>
<path d="M351.6 852.2L421.1 812.8L372.6 728.8L303.1 768.2Z" style="fill:#fff;stroke:none;"/>
<path d="M351.6 852.2L421.1 812.8"/>
<path d="M303.1 768.2L372.6 728.8"/>
<ellipse cx="327.4" cy="810.2" rx="29.7" ry="48.5" transform="rotate(-30 327.4 810.2)" style="fill:#fff;"/>
<ellipse cx="328.2" cy="809.8" rx="28" ry="46.5" transform="rotate(-30 328.2 809.8)" style="stroke-width:0.9;"/>
<ellipse cx="329.4" cy="809.2" rx="25.5" ry="43" transform="rotate(-30 329.4 809.2)" style="fill:#fff;"/>
<clipPath id="yk"><ellipse cx="329.4" cy="809.2" rx="25.5" ry="43" transform="rotate(-30 329.4 809.2)"/></clipPath>
<g clip-path="url(#yk)">
<ellipse cx="337.4" cy="804.7" rx="25.5" ry="43" transform="rotate(-30 337.4 804.7)"/>
<path d="M309.9 783L310.7 780.2L311.9 777.8L313.4 775.8L315.1 774.2L317.1 772.9L319.3 772.1L321.8 771.7"/>
<path d="M361.6 824.7L361.3 827.6L360.7 830.3L359.8 832.8L358.7 834.9L357.3 836.8L355.6 838.3L353.8 839.5L351.7 840.3L349.4 840.7L347 840.7"/>
<path d="M357.6 829.2L356.8 831.9L355.6 834.2L354.1 836.2L352.4 837.7L350.4 838.9L348.1 839.6" style="stroke-width:0.9;"/>
</g>
<ellipse cx="324.5" cy="811.8" rx="10" ry="16.3" transform="rotate(-30 324.5 811.8)" style="fill:#fff;"/>
<ellipse cx="321.5" cy="813.5" rx="9.5" ry="15.5" transform="rotate(-30 321.5 813.5)" style="fill:#fff;"/>
<ellipse cx="323" cy="812.7" rx="6.2" ry="10.2" transform="rotate(-30 323 812.7)" style="fill:#fff;"/>
<path d="M293.1 841.3L328.1 821.5L317.9 803.9L282.9 823.7Z" style="fill:#fff;stroke:none;"/>
<path d="M293.1 841.3L328.1 821.5"/>
<path d="M282.9 823.7L317.9 803.9"/>
<ellipse cx="288" cy="832.5" rx="6.2" ry="10.2" transform="rotate(-30 288 832.5)" style="fill:#fff;"/>
<ellipse cx="288" cy="832.5" rx="5" ry="8" transform="rotate(-30 288 832.5)" style="fill:#fff;"/>
<path d="M267.5 853.7L292 839.4L284 825.6L259.5 839.9Z" style="fill:#fff;stroke:none;"/>
<path d="M267.5 853.7L292 839.4"/>
<path d="M259.5 839.9L284 825.6"/>
<path d="M267.8 844.3L268.4 845.4L267.7 846.6L267.9 847.5L269.4 848.8L269.4 849.9L268 850L267.8 850.7L268.6 852.6L268.1 853.3L266.6 852.2L266.1 852.4L266 854.2L265.1 854.1L264 852.3L263.3 852L262.3 852.9L261.5 852.2L261.3 850.3L260.7 849.6L259.2 849.3L258.6 848.2L259.3 847L259.1 846.1L257.6 844.8L257.6 843.7L259 843.6L259.2 842.9L258.4 841L258.9 840.3L260.4 841.4L260.9 841.2L261 839.4L261.9 839.5L263 841.3L263.7 841.6L264.7 840.7L265.5 841.4L265.7 843.3L266.3 844Z" style="fill:#fff;stroke-width:1.0;"/>
<path d="M262.8 840.8L285.2 827.7" style="stroke-width:0.9"/>
<path d="M263.9 842.8L286.4 829.7" style="stroke-width:0.9"/>
<path d="M265 844.7L287.5 831.6" style="stroke-width:0.9"/>
<path d="M266.1 846.6L288.6 833.5" style="stroke-width:0.9"/>
<path d="M267.2 848.5L289.7 835.4" style="stroke-width:0.9"/>
<path d="M268.3 850.4L290.8 837.3" style="stroke-width:0.9"/>
<path d="M125.8 857.5L139.2 850.3L142.3 851.1L168 869.9L182.5 883.3L192.8 901.9L197.4 922.5L195.5 938L192.8 948.2L189.7 959.6L176.3 966.8L170.1 963.7L157.7 955.5L140.7 946.7L127 938L116 903.9L117 888.5L122.2 874Z" style="fill:#fff;stroke:none;"/>
<path d="M142.3 851.1Q155 859.5 161.5 864.7Q168 869.9 175.2 876.6Q182.5 883.3 187.7 892.6Q192.8 901.9 195.2 912.2Q197.6 922.5 196.6 930.2Q195.5 938 194.2 943.1Q192.8 948.2 191.2 953.9L189.7 959.6"/>
<path d="M189.7 959.6L176.3 966.8L170.1 963.7L157.7 955.5L140.7 946.7"/>
<path d="M140.7 946.7Q127 938 122.5 929Q118 920 117 912Q116 903.9 116.5 896.2Q117 888.5 119.6 881.2Q122.2 874 124 865.8L125.8 857.5"/>
<path d="M125.8 857.5L139.2 850.3L142.3 851.1"/>
<path d="M129.9 858L155.7 876.1"/>
<path d="M122.5 873 Q127 880 132 876.5 Q135 869 141 868.5 L147 870.5" />
<ellipse cx="130.7" cy="864.7" rx="2" ry="3.2" transform="rotate(-30 130.7 864.7)"/>
<ellipse cx="128.5" cy="875.3" rx="2.2" ry="2.6" transform="rotate(-30 128.5 875.3)"/>
<path d="M162.9 881.8 Q177.5 900 184.5 922.5 L185 929.2" />
<path d="M184.5 939.5 Q182 948 176.5 952.6 Q170 951.5 166 952" />
<path d="M184.5 939.5L178.3 965.5"/>
<ellipse cx="173.2" cy="959.8" rx="2.1" ry="3.2" transform="rotate(-30 173.2 959.8)" style="stroke-width:1.6;"/>
<ellipse cx="163.6" cy="953.6" rx="1.6" ry="2.2" transform="rotate(-30 163.6 953.6)"/>
<ellipse cx="146.2" cy="916.5" rx="16" ry="25.8" transform="rotate(-30 146.2 916.5)" style="fill:#fff;"/>
<ellipse cx="145.4" cy="917" rx="14.8" ry="24.3" transform="rotate(-30 145.4 917)" style="stroke-width:0.9;"/>
<ellipse cx="140.4" cy="916.7" rx="14.2" ry="23.4" transform="rotate(-30 140.4 916.7)" style="fill:#fff;"/>
<path d="M139.1 944.6L152.1 937L128.7 896.4L115.7 904Z" style="fill:#fff;stroke:none;"/>
<path d="M139.1 944.6L152.1 937"/>
<path d="M115.7 904L128.7 896.4"/>
<ellipse cx="127.4" cy="924.3" rx="14.2" ry="23.4" transform="rotate(-30 127.4 924.3)" style="fill:#fff;"/>
<path d="M120.2 901.5L121.7 901L123.3 900.8L124.9 900.9L126.6 901.2L128.4 901.7L130.2 902.4L132 903.4L133.8 904.6L135.6 906L137.3 907.6L138.9 909.3L140.5 911.2L141.9 913.2L143.2 915.4L144.4 917.6L145.4 919.8L146.2 922.1L146.9 924.4L147.4 926.6L147.7 928.9L147.8 931L147.7 933L147.4 934.9L147 936.7L146.3 938.3L145.5 939.8L144.5 941L143.3 942L142.1 942.8" style="stroke-width:1.1;"/>
<path d="M123.6 899.5L125.1 899L126.7 898.8L128.3 898.9L130 899.2L131.8 899.7L133.6 900.4L135.4 901.4L137.2 902.6L139 904L140.7 905.6L142.3 907.3L143.9 909.2L145.3 911.2L146.6 913.4L147.8 915.6L148.8 917.8L149.6 920.1L150.3 922.4L150.8 924.6L151.1 926.9L151.2 929L151.1 931L150.8 932.9L150.4 934.7L149.7 936.3L148.9 937.8L147.9 939L146.7 940L145.5 940.8" style="stroke-width:1.6;"/>
<path d="M127 897.5L128.5 897L130.1 896.8L131.7 896.9L133.4 897.2L135.2 897.7L137 898.4L138.8 899.4L140.6 900.6L142.4 902L144.1 903.6L145.7 905.3L147.3 907.2L148.7 909.2L150 911.4L151.2 913.6L152.2 915.8L153 918.1L153.7 920.4L154.2 922.6L154.5 924.9L154.6 927L154.5 929L154.2 930.9L153.8 932.7L153.1 934.3L152.3 935.8L151.3 937L150.1 938L148.9 938.8" style="stroke-width:1.1;"/>
<path d="M124 908.9L125.1 909.1L126.2 909.4L127.4 909.8L128.6 910.4L129.7 911.1L130.9 912L132 913L133.1 914.1L134.2 915.4L135.2 916.7L136.1 918L137 919.5L137.7 921L138.4 922.5L139 924L139.4 925.5L139.7 927L140 928.5L140.1 929.9L140 931.2" style="stroke-width:1.0;"/>
<path d="M27.1 1041L129.8 982.7L132.4 984.6L132.6 987.7L29.9 1046Z" style="fill:#fff;"/>
<path d="M111.6 993.2L115.1 998.5" style="stroke-width:0.9"/>
<path d="M115.5 991L119 996.3" style="stroke-width:0.9"/>
<path d="M119.4 988.7L123 994.1" style="stroke-width:0.9"/>
<path d="M123.3 986.5L126.9 991.9" style="stroke-width:0.9"/>
<path d="M127.2 984.3L130.8 989.7" style="stroke-width:0.9"/>
<ellipse cx="27.3" cy="1044.3" rx="5.6" ry="8.8" transform="rotate(-30 27.3 1044.3)" style="fill:#fff;"/>
<path d="M16.5 1043L18.2 1039L23.5 1037.6L28 1041.5L27.5 1048.5L23 1053L18 1051Z" style="fill:#fff;"/>
<ellipse cx="21.2" cy="1047" rx="2.9" ry="4.2" transform="rotate(-30 21.2 1047)" style="stroke-width:1.0;"/>
<path d="M23.5 1037.6L22.5 1043.5"/>
<path d="M28 1041.5L25.5 1046"/>
<path d="M94 945.2L129 925.7"/>
<path d="M696.5 859.5 C672 869 650 882 623 907 C608 921 590 945 573.5 970.5" style="stroke-width:11.2;stroke-linecap:butt"/>
<path d="M696.5 859.5 C672 869 650 882 623 907 C608 921 590 945 573.5 970.5" style="stroke:#fff;stroke-width:8.7;stroke-linecap:butt"/>
<ellipse cx="575.9" cy="972" rx="2.5" ry="2.5" transform="rotate(0 575.9 972)" style="fill:#fff;"/>
<path d="M568.2 967.4L569.5 971L573 972.5"/>
<path d="M712.8 845L739 849.7L741.9 861.8L726.9 860L716.6 858.1Z" style="fill:#fff;"/>
<path d="M711 870.3L726.9 860"/>
<ellipse cx="733.4" cy="857.2" rx="2.6" ry="3.3" transform="rotate(-30 733.4 857.2)"/>
<ellipse cx="733.6" cy="857.2" rx="1.2" ry="1.6" transform="rotate(-30 733.6 857.2)" style="stroke-width:0.9;"/>
<path d="M690.3 853.4L703.4 845.9L712.8 845L716.6 858.1L702.5 867.5L698.7 867.5L694 859Z" style="fill:#fff;"/>
<path d="M690.3 853.4L700.6 852.5L712.8 845"/>
<path d="M700.6 852.5L702.5 867.5"/>
<ellipse cx="794.4" cy="821.4" rx="5.4" ry="7.2" transform="rotate(-30 794.4 821.4)" style="fill:#fff;stroke-width:1.5;"/>
<ellipse cx="794.7" cy="821.4" rx="2.9" ry="4.2" transform="rotate(-30 794.7 821.4)" style="stroke-width:1.6;"/>
<ellipse cx="795" cy="821.7" rx="1.2" ry="1.8" transform="rotate(-30 795 821.7)" style="stroke-width:1.0;"/>
<path d="M824.3 808.9L835.6 802.7L831.8 796.3L820.6 802.5Z" style="fill:#fff;stroke:none;"/>
<ellipse cx="822.4" cy="805.7" rx="2.3" ry="3.7" transform="rotate(-30 822.4 805.7)" style="fill:#fff;stroke-width:1.1;"/>
<path d="M824.3 808.9L835.6 802.7" style="stroke-width:1.0"/>
<path d="M820.6 802.5L831.8 796.3" style="stroke-width:1.0"/>
<path d="M822.8 801.3L823 801.2L823.3 801.1L823.5 801.1L823.8 801.1L824.1 801.1L824.3 801.2L824.6 801.3L824.9 801.5L825.2 801.6L825.5 801.9L825.7 802.1L826 802.4L826.2 802.7L826.4 803L826.7 803.3L826.8 803.7L827 804L827.1 804.4L827.2 804.7L827.3 805.1L827.4 805.4L827.4 805.7L827.4 806.1L827.3 806.4L827.3 806.7L827.2 806.9L827 807.2L826.9 807.4L826.7 807.5L826.5 807.7" style="stroke-width:1.1;"/>
<path d="M825.1 800L825.3 799.9L825.5 799.8L825.8 799.8L826 799.8L826.3 799.9L826.6 800L826.9 800.1L827.2 800.2L827.4 800.4L827.7 800.6L828 800.9L828.2 801.1L828.5 801.4L828.7 801.7L828.9 802.1L829.1 802.4L829.3 802.8L829.4 803.1L829.5 803.5L829.6 803.8L829.6 804.2L829.6 804.5L829.6 804.8L829.6 805.1L829.5 805.4L829.4 805.7L829.3 805.9L829.1 806.1L829 806.3L828.8 806.4" style="stroke-width:1.1;"/>
<path d="M827.3 798.8L827.5 798.7L827.8 798.6L828 798.6L828.3 798.6L828.6 798.6L828.9 798.7L829.1 798.8L829.4 799L829.7 799.2L830 799.4L830.2 799.6L830.5 799.9L830.7 800.2L831 800.5L831.2 800.8L831.4 801.2L831.5 801.5L831.6 801.9L831.8 802.2L831.8 802.6L831.9 802.9L831.9 803.3L831.9 803.6L831.8 803.9L831.8 804.2L831.7 804.4L831.6 804.7L831.4 804.9L831.2 805L831 805.2" style="stroke-width:1.1;"/>
<path d="M829.6 797.5L829.8 797.4L830 797.4L830.3 797.3L830.6 797.3L830.8 797.4L831.1 797.5L831.4 797.6L831.7 797.7L832 797.9L832.2 798.1L832.5 798.4L832.8 798.7L833 798.9L833.2 799.3L833.4 799.6L833.6 799.9L833.8 800.3L833.9 800.6L834 801L834.1 801.3L834.1 801.7L834.2 802L834.1 802.4L834.1 802.7L834 802.9L833.9 803.2L833.8 803.4L833.7 803.6L833.5 803.8L833.3 803.9" style="stroke-width:1.1;"/>
<ellipse cx="840.3" cy="795.7" rx="4.1" ry="6.6" transform="rotate(-30 840.3 795.7)" style="fill:#fff;"/>
<path d="M838 804.6L843.6 801.4L837 790L831.4 793.2Z" style="fill:#fff;stroke:none;"/>
<path d="M838 804.6L843.6 801.4"/>
<path d="M831.4 793.2L837 790"/>
<ellipse cx="834.7" cy="798.9" rx="4.1" ry="6.6" transform="rotate(-30 834.7 798.9)" style="fill:#fff;"/>
<path d="M913.2 910.4L929 901.3L956.4 898.8L964.7 901.3L979.6 893L979.6 888L984 885.5L990 887L991.5 893L989.5 898L1004.5 947.7L1006.5 951L1005 954L979.6 962L966.3 965.6L958 964.3L931.5 961L925.7 956Z" style="fill:#fff;"/>
<path d="M913.2 910.4L916 908L929 901.3L956.4 898.8L964.7 901.3L953 912L929.5 909.5L916 911Z"/>
<path d="M940 905.3L947.5 903.3" style="stroke-width:1.6"/>
<path d="M916 911L913.5 913L925.7 956L931.5 961"/>
<path d="M953 912L963 951"/>
<path d="M929.5 909.5L934 927" style="stroke-width:0.9;"/>
<path d="M936 936L939.5 950" style="stroke-width:0.9;"/>
<path d="M919 933.6L933 926.2L956.4 923.7"/>
<path d="M919 933.6L944.7 935.6L958 926.2L964.7 922" style="stroke-width:1.5;"/>
<path d="M958 926.2L962 945" style="stroke-width:0.9;"/>
<path d="M944 949L963 947.5" style="stroke-width:0.9;"/>
<path d="M930 954L938 950" style="stroke-width:0.9;"/>
<path d="M931.5 961L944 957.5L946 962.8L958 964.3L966.3 965.6L979.6 962"/>
<path d="M958 958.5L961 964.5"/>
<path d="M964.7 901.3L979.6 893"/>
<path d="M966 904L980 896.5" style="stroke-width:2.2;"/>
<path d="M973.8 906.3L984.6 949.4"/>
<path d="M980.4 903L991.2 947.7"/>
<path d="M989.5 898L1004.5 947.7"/>
<path d="M963 951L973 946L984.6 949.4"/>
<path d="M966.3 965.6L968 960L1003 948.5"/>
<path d="M979.6 962L1005 954" style="stroke-width:2.0;"/>
<path d="M976 915L978.5 914L981 925L979 926" style="stroke-width:0.9;"/>
<path d="M982 936L984.5 935L986 943L984 944" style="stroke-width:0.9;"/>
<path d="M917.3 911.3L929 952.5L933.5 957" style="stroke-width:0.9;"/>
<path d="M916.5 911.2L930.5 910.2L953 912.6" style="stroke-width:0.9;"/>
<path d="M957 917L966 953" style="stroke-width:0.9;"/>
<path d="M964.7 922L979.5 925.5L984.5 929.5" style="stroke-width:1.5;"/>
<path d="M963 951L969.5 946.5L983 948.8" style="stroke-width:0.9;"/>
<path d="M980.5 959.5L996 952.5" style="stroke-width:2.2;"/>
<path d="M968 902.5L983 894" style="stroke-width:2.0;"/>
<path d="M979.6 893 L979.6 888 Q984 884 990 887 Q992.5 890 989.5 898" />
<path d="M1004.5 947.7 Q1008 949.5 1005 954" />
<path d="M780.6 1011.5L792 1008.5L806.8 1010.6L814.3 1014.4L820 1021.9L827.5 1055.6L808.7 1068.7L801.2 1072.5L790 1060L775 1020Z" style="fill:#fff;"/>
<path d="M790 1026.5L797.5 1031L805 1070.6" style="stroke-width:1.6;"/>
<path d="M793.5 1024.8L801 1029.5L808.5 1068"/>
<path d="M797.5 1031L814.3 1018.5"/>
<path d="M801 1029.5L812 1021L820 1021.9"/>
<path d="M806 1038.5L822.5 1030.5" style="stroke-width:2.2"/>
<path d="M806.5 1047L824 1038.5" style="stroke-width:2.2"/>
<path d="M806 1034L804 1038L806 1042" style="stroke-width:0.9;"/>
<path d="M806.5 1043.5L804.5 1047L807 1050.5" style="stroke-width:0.9;"/>
<ellipse cx="814.8" cy="1039.2" rx="1.6" ry="1.2" transform="rotate(0 814.8 1039.2)" style="stroke-width:0.8;"/>
<ellipse cx="817.8" cy="1038" rx="1.6" ry="1.2" transform="rotate(0 817.8 1038)" style="stroke-width:0.8;"/>
<path d="M726.2 1043.4L761.9 1022.8L790 1026.5L797.5 1068.7L766.5 1083.7L735.6 1080Z" style="fill:#fff;"/>
<path d="M726.2 1043.4L759 1049L790 1026.5"/>
<path d="M759 1049L766.5 1083.7"/>
<ellipse cx="729.3" cy="1048" rx="1.4" ry="1.6" transform="rotate(0 729.3 1048)" style="stroke-width:1.1;"/>
<ellipse cx="754.5" cy="1052.3" rx="1.4" ry="1.6" transform="rotate(0 754.5 1052.3)" style="stroke-width:1.1;"/>
<ellipse cx="737.2" cy="1077" rx="1.4" ry="1.6" transform="rotate(0 737.2 1077)" style="stroke-width:1.1;"/>
<ellipse cx="761.2" cy="1080.2" rx="1.4" ry="1.6" transform="rotate(0 761.2 1080.2)" style="stroke-width:1.1;"/>
<path d="M777.8 1048.1L793.7 1040.6" style="stroke-width:2.0;"/>
<path d="M776.9 1051.8L779.7 1057.5L790 1052.8L790.9 1061.2L781.5 1065L782.5 1067.5L793.7 1062.2" style="stroke-width:1.3;"/>
<ellipse cx="779.8" cy="1047.8" rx="1.9" ry="2.8" transform="rotate(-30 779.8 1047.8)" style="fill:#fff;stroke-width:1.0;"/>
<path d="M776 1032L779 1030L780 1034" style="stroke-width:0.9;"/>
<path d="M757 1017.5L760 1014.5L766.5 1013.8L772.5 1015L780.6 1011.5L787.5 1009L797 1010.5L800.5 1015L789 1021.5L776 1024.5L762 1022.5Z" style="fill:#fff;"/>
<path d="M760.5 1019.5L787 1023" style="stroke-width:2.2;"/>
<path d="M772.5 1015L776 1020"/>
<path d="M784 1012.5L787.5 1017.5L793.5 1014"/>
<path d="M763 1012L765 1009.5L769 1010L768.5 1014" style="stroke-width:1.0;"/>
<path d="M797 1010.5L806.8 1010.6"/>
<path d="M828.4 993.9L838.2 988.6" style="stroke-width:4;stroke-linecap:round"/>
<path d="M828.4 993.9L838.2 988.6" style="stroke:#fff;stroke-width:1.8;stroke-linecap:round"/>
<path d="M831.2 1006.1L841 1000.6" style="stroke-width:4;stroke-linecap:round"/>
<path d="M831.2 1006.1L841 1000.6" style="stroke:#fff;stroke-width:1.8;stroke-linecap:round"/>
<path d="M836.8 984.4L848 983.2L851 994.9L839.8 1000.6Z" style="fill:#fff;"/>
<path d="M836.8 984.4L838.3 985.8L841.3 999.6" style="stroke-width:0.9;"/>
<path d="M838.3 985.8L848 983.2" style="stroke-width:2.0;"/>
<path d="M840 992L849.5 988.5" style="stroke-width:0.8;"/>
<path d="M840.8 996L850.2 992" style="stroke-width:0.8;"/>
<path d="M843.5 985.5L846 997" style="stroke-width:0.8;"/>
<path d="M839.6 1018L849.4 1012.7" style="stroke-width:4;stroke-linecap:round"/>
<path d="M839.6 1018L849.4 1012.7" style="stroke:#fff;stroke-width:1.8;stroke-linecap:round"/>
<path d="M842.4 1030.2L852.2 1024.7" style="stroke-width:4;stroke-linecap:round"/>
<path d="M842.4 1030.2L852.2 1024.7" style="stroke:#fff;stroke-width:1.8;stroke-linecap:round"/>
<path d="M848 1008.5L859.2 1007.3L862.2 1019L851 1024.7Z" style="fill:#fff;"/>
<path d="M848 1008.5L849.5 1009.9L852.5 1023.7" style="stroke-width:0.9;"/>
<path d="M849.5 1009.9L859.2 1007.3" style="stroke-width:2.0;"/>
<path d="M851.2 1016.1L860.7 1012.6" style="stroke-width:0.8;"/>
<path d="M852 1020.1L861.4 1016.1" style="stroke-width:0.8;"/>
<path d="M854.7 1009.6L857.2 1021.1" style="stroke-width:0.8;"/>
<path d="M677.4 1068.1L705.6 1073.3L714.9 1078L724.3 1113.1L691.5 1131.8L688 1133L654 1127.2L641.1 1088.5Z" style="fill:#fff;"/>
<path d="M641.1 1088.5L673.9 1093.2L705.6 1073.3"/>
<path d="M673.9 1093.2L682.1 1094.3L714.9 1078"/>
<path d="M673.9 1093.2L688 1133"/>
<path d="M682.1 1094.3L691.5 1131.8" style="stroke-width:1.6;"/>
<path d="M684.5 1094L693.5 1130" style="stroke-width:0.9;"/>
<path d="M643 1089.8L655.5 1126" style="stroke-width:0.9;"/>
<ellipse cx="649.2" cy="1091.5" rx="1.4" ry="1.6" transform="rotate(0 649.2 1091.5)" style="stroke-width:1.1;"/>
<ellipse cx="669" cy="1094.6" rx="1.4" ry="1.6" transform="rotate(0 669 1094.6)" style="stroke-width:1.1;"/>
<ellipse cx="659" cy="1125.8" rx="1.4" ry="1.6" transform="rotate(0 659 1125.8)" style="stroke-width:1.1;"/>
<ellipse cx="679.5" cy="1129.8" rx="1.4" ry="1.6" transform="rotate(0 679.5 1129.8)" style="stroke-width:1.1;"/>
<path d="M603.6 1160.4L686.8 1113.1"/>
<path d="M520.5 1164.6L553.3 1145.9L555 1147L560.3 1171.7L549 1170L525 1167Z" style="fill:#fff;"/>
<path d="M522 1163L553 1145.5" style="stroke-width:2.0;"/>
<path d="M532 1164 L549.5 1154 Q554 1153.5 553.5 1158.5 L551 1170" style="stroke-width:1.4"/>
<path d="M560.3 1174L594.3 1151.8L596 1153L601.3 1177.5L566.1 1197.4Z" style="fill:#fff;"/>
<path d="M561 1172.5L594.5 1151" style="stroke-width:2.0;"/>
<path d="M572 1180.5 L590 1169.5 Q594.5 1169 593 1173.5 L575.5 1184.5 Q570 1185.5 572 1180.5Z" style="stroke-width:1.8"/>
<path d="M520.5 1164.6L560.3 1174L566.1 1197.4L562.6 1199.8L531 1190.4Z" style="fill:#fff;"/>
<path d="M533.5 1177 Q536 1173.5 541 1175 L551.5 1179 Q554.5 1182.5 551 1185.5 L540.5 1186 Q533 1182 533.5 1177Z" style="stroke-width:1.8"/>
<path d="M538 1186.5L550 1178.5" style="stroke-width:0.9"/>
<path d="M531 1190.4 L533.3 1202 Q515 1203 509.5 1208 Q505 1211.5 509 1214.5 Q504.5 1219.5 507.5 1223.5 Q512 1227 522 1223.5 Q530 1216.5 540 1217.5 L560.3 1209 L562.6 1199.8 Z" style="fill:#fff"/>
<path d="M507 1221 Q512 1224.5 521 1221 Q530 1214.5 540 1215.3 L560.5 1206.5" style="stroke-width:1.0"/>
<ellipse cx="519.3" cy="1209" rx="3.6" ry="1.7" transform="rotate(-12 519.3 1209)" style="stroke-width:1.2;"/>
<ellipse cx="540.4" cy="1211.5" rx="3.6" ry="1.7" transform="rotate(-12 540.4 1211.5)" style="stroke-width:1.2;"/>
<ellipse cx="518" cy="1219" rx="3.6" ry="1.7" transform="rotate(-12 518 1219)" style="stroke-width:1.2;"/>
<path d="M851 1184 C832 1192 818 1203 806 1222 C796 1238 793 1250 780 1262 C765 1276 745 1281 736 1272 C730 1265 730.5 1255 730.5 1240" style="stroke-width:13.2;stroke-linecap:butt"/>
<path d="M851 1184 C832 1192 818 1203 806 1222 C796 1238 793 1250 780 1262 C765 1276 745 1281 736 1272 C730 1265 730.5 1255 730.5 1240" style="stroke:#fff;stroke-width:10.7;stroke-linecap:butt"/>
<path d="M727 1240 C727 1256 722 1266 708 1272 C700 1275.5 694 1276.5 687.5 1277" style="stroke-width:9.6;stroke-linecap:butt"/>
<path d="M727 1240 C727 1256 722 1266 708 1272 C700 1275.5 694 1276.5 687.5 1277" style="stroke:#fff;stroke-width:7.1;stroke-linecap:butt"/>
<path d="M722.5 1236L741.5 1236L741.5 1246L722.5 1246Z" style="fill:#fff;stroke:none;"/>
<path d="M732.6 1247L733 1262"/>
<path d="M690.7 1175L706.5 1165.3L713 1166L740 1187L742.5 1194L741.9 1242L738 1245L726 1245L722.2 1242L722.2 1222.4L690.7 1200.7Z" style="fill:#fff;"/>
<path d="M690.7 1175 L714 1190.5 Q722 1195 732 1193 Q740 1191 742 1192" />
<path d="M714 1190.5L714 1216.5" style="stroke-width:1.2"/>
<path d="M722.2 1242 Q732 1247.5 741.9 1242" />
<path d="M866 1169.2L893.5 1175L895.4 1186L881 1184.5L868 1192.5L862 1190.9Z" style="fill:#fff;"/>
<ellipse cx="886.4" cy="1179.8" rx="2.6" ry="3.3" transform="rotate(-30 886.4 1179.8)"/>
<ellipse cx="886.6" cy="1179.8" rx="1.2" ry="1.6" transform="rotate(-30 886.6 1179.8)" style="stroke-width:0.9;"/>
<path d="M844.5 1179.5L856 1173L866 1169.2L871.5 1182.5L866 1192.8L853.5 1190L848 1187Z" style="fill:#fff;"/>
<path d="M856 1173L862 1190.9"/>
<path d="M851.5 1175.5L857 1191" style="stroke-width:0.9;"/>
<path d="M634.4 1259.8L643 1251.5L662 1254.5L666 1258.5L678 1261.5L690.7 1265.5L690.7 1289.3L686 1292L660 1286L640 1281Z" style="fill:#fff;"/>
<path d="M634.4 1259.8L656 1263.5L664.5 1256"/>
<path d="M656 1263.5L659 1285.5"/>
<path d="M655.5 1270L676 1274.5L690.7 1265.5"/>
<path d="M676 1274.5L678.5 1290"/>
<path d="M643 1251.5L646.5 1257" style="stroke-width:0.9;"/>
<path d="M662 1254.5L655 1261" style="stroke-width:0.9;"/>
<path d="M656 1263.5L658.5 1256.5L666 1258.5" style="stroke-width:0.9;"/>
<path d="M640.5 1266L651 1268L651 1271.5L644 1270.5L644.5 1275L652 1276.5L652 1279.5L641.5 1277.5Z" style="stroke-width:1.3;"/>
<path d="M662 1276L672 1278L672 1281L666 1280L666.3 1283.2L673 1284.5L673 1287.5L663 1285.5Z" style="stroke-width:1.3;"/>
<ellipse cx="947.8" cy="1145.4" rx="5.4" ry="7.2" transform="rotate(-30 947.8 1145.4)" style="fill:#fff;stroke-width:1.5;"/>
<ellipse cx="948.1" cy="1145.4" rx="2.9" ry="4.2" transform="rotate(-30 948.1 1145.4)" style="stroke-width:1.6;"/>
<ellipse cx="948.4" cy="1145.7" rx="1.2" ry="1.8" transform="rotate(-30 948.4 1145.7)" style="stroke-width:1.0;"/>
<path d="M978.2 1130.6L989.4 1124.4L985.8 1118L974.5 1124.2Z" style="fill:#fff;stroke:none;"/>
<ellipse cx="976.3" cy="1127.4" rx="2.3" ry="3.7" transform="rotate(-30 976.3 1127.4)" style="fill:#fff;stroke-width:1.1;"/>
<path d="M978.2 1130.6L989.4 1124.4" style="stroke-width:1.0"/>
<path d="M974.5 1124.2L985.8 1118" style="stroke-width:1.0"/>
<path d="M976.7 1123L976.9 1122.9L977.2 1122.8L977.4 1122.8L977.7 1122.8L978 1122.8L978.2 1122.9L978.5 1123L978.8 1123.2L979.1 1123.3L979.4 1123.6L979.6 1123.8L979.9 1124.1L980.1 1124.4L980.3 1124.7L980.6 1125L980.7 1125.4L980.9 1125.7L981 1126.1L981.1 1126.4L981.2 1126.8L981.3 1127.1L981.3 1127.4L981.3 1127.8L981.2 1128.1L981.2 1128.4L981.1 1128.6L980.9 1128.9L980.8 1129.1L980.6 1129.2L980.4 1129.4" style="stroke-width:1.1;"/>
<path d="M979 1121.7L979.2 1121.6L979.4 1121.5L979.7 1121.5L979.9 1121.5L980.2 1121.6L980.5 1121.7L980.8 1121.8L981.1 1121.9L981.3 1122.1L981.6 1122.3L981.9 1122.6L982.1 1122.8L982.4 1123.1L982.6 1123.4L982.8 1123.8L983 1124.1L983.2 1124.5L983.3 1124.8L983.4 1125.2L983.5 1125.5L983.5 1125.9L983.5 1126.2L983.5 1126.5L983.5 1126.8L983.4 1127.1L983.3 1127.4L983.2 1127.6L983 1127.8L982.9 1128L982.7 1128.1" style="stroke-width:1.1;"/>
<path d="M981.2 1120.5L981.4 1120.4L981.7 1120.3L981.9 1120.3L982.2 1120.3L982.5 1120.3L982.8 1120.4L983 1120.5L983.3 1120.7L983.6 1120.9L983.9 1121.1L984.1 1121.3L984.4 1121.6L984.6 1121.9L984.9 1122.2L985.1 1122.5L985.3 1122.9L985.4 1123.2L985.5 1123.6L985.7 1123.9L985.7 1124.3L985.8 1124.6L985.8 1125L985.8 1125.3L985.7 1125.6L985.7 1125.9L985.6 1126.1L985.5 1126.4L985.3 1126.6L985.1 1126.7L984.9 1126.9" style="stroke-width:1.1;"/>
<path d="M983.5 1119.2L983.7 1119.1L983.9 1119.1L984.2 1119L984.5 1119L984.7 1119.1L985 1119.2L985.3 1119.3L985.6 1119.4L985.9 1119.6L986.1 1119.8L986.4 1120.1L986.7 1120.4L986.9 1120.6L987.1 1121L987.3 1121.3L987.5 1121.6L987.7 1122L987.8 1122.3L987.9 1122.7L988 1123L988 1123.4L988.1 1123.7L988 1124.1L988 1124.4L987.9 1124.6L987.8 1124.9L987.7 1125.1L987.6 1125.3L987.4 1125.5L987.2 1125.6" style="stroke-width:1.1;"/>
<ellipse cx="994.2" cy="1117.4" rx="4.1" ry="6.6" transform="rotate(-30 994.2 1117.4)" style="fill:#fff;"/>
<path d="M991.9 1126.3L997.5 1123.1L990.9 1111.7L985.3 1114.9Z" style="fill:#fff;stroke:none;"/>
<path d="M991.9 1126.3L997.5 1123.1"/>
<path d="M985.3 1114.9L990.9 1111.7"/>
<ellipse cx="988.6" cy="1120.6" rx="4.1" ry="6.6" transform="rotate(-30 988.6 1120.6)" style="fill:#fff;"/>
<text x="970.7 980.6 990.4 1000.3 1010.1" y="48.7" font-size="17">E1840</text>
<text x="318.2 329.1 340.1 351 362" y="153.4" font-size="20">92048</text>
<text x="234.7 245.6 256.6 267.5 278.5" y="223.1" font-size="20">13194</text>
<text x="40.3 51.4 62.5 73.7 84.8 95.8 106.9 118 129.1 140.2 151.3 162.4 173.6" y="246" font-size="20">Ref.Generator</text>
<text x="459.2 470.1 481.1 492 503" y="350.9" font-size="20">16085</text>
<text x="379.2 390.1 401.1 412 423" y="436.4" font-size="20">13107</text>
<text x="321.2 332.1 343.1 354 365" y="504.2" font-size="20">59051</text>
<text x="33.7 44.6 55.6 66.5 77.5" y="540.4" font-size="20">92154</text>
<text x="568.2 579.1 590.1 601 612" y="166" font-size="20">26011</text>
<text x="844.7 855.6 866.6 877.5 888.5" y="173.9" font-size="20">92210</text>
<text x="706.2 717.1 728.1 739 750" y="212.8" font-size="20">92071</text>
<text x="753.7 764.6 775.6 786.5 797.5" y="303.5" font-size="20">92151</text>
<text x="931.2 942.1 953.1 964 975" y="372.1" font-size="20">92200</text>
<text x="879.2 890.1 901.1 912 923 933.9" y="400.6" font-size="20">92055B</text>
<text x="957.2 968.1 979.1 990 1001" y="480.4" font-size="20">92015</text>
<text x="911.7 922.6 933.6 944.5 955.5" y="507.9" font-size="20">16073</text>
<text x="716 726.9 737.9 748.8 759.8" y="481.2" font-size="20">92055</text>
<text x="401.2 412.1 423.1 434 445" y="561.8" font-size="20">21163</text>
<text x="656 666.9 677.9 688.8 699.8" y="559.1" font-size="20">21040</text>
<text x="550.4 561.3 572.3 583.2 594.2" y="610.7" font-size="20">21040</text>
<text x="557.1 568 579 589.9 600.9" y="635" font-size="20">21040</text>
<text x="666.1 677 688 698.9 709.9" y="687.3" font-size="20">21040</text>
<text x="397.9 408.8 419.8 430.7 441.7 452.6" y="678.8" font-size="20">92153A</text>
<text x="448.4 459.3 470.3 481.2 492.2" y="817.2" font-size="20">92172</text>
<text x="528.4 539.3 550.3 561.2 572.2" y="799.6" font-size="20">21039</text>
<text x="188.7 199.6 210.6 221.5 232.5" y="784.4" font-size="20">92055</text>
<text x="37.2 48.1 59.1 70 81 91.9" y="891.8" font-size="20">92055A</text>
<text x="52.4 63.3 74.3 85.2 96.2" y="1077.4" font-size="20">92153</text>
<text x="614.7 625.6 636.6 647.5 658.5 669.4 680.4" y="840.1" font-size="20">(26011)</text>
<text x="782.7 793.6 804.6" y="771.4" font-size="20">461</text>
<text x="824.7 835.6 846.6" y="747.4" font-size="20">120</text>
<text x="921.7 932.6 943.6 954.5 965.5" y="856.6" font-size="20">14092</text>
<text x="811 821.9 832.9 843.8 854.8 865.7" y="942" font-size="20">26006A</text>
<text x="961.7 972.6 983.6 994.5 1005.5" y="1035.2" font-size="20">27010</text>
<text x="834.9 845.8 856.8 867.7 878.7" y="1083.2" font-size="20">26006</text>
<text x="643 653.9 664.9 675.8 686.8" y="1033.1" font-size="20">13280</text>
<text x="937.7 948.6 959.6" y="1207.8" font-size="20">461</text>
<text x="984.2 995.1 1006.1" y="1183.4" font-size="20">120</text>
<text x="317.9 328.9 340.1 351.2 362.2 373.4 384.4 395.6 406.6 417.8 428.9" y="1198.4" font-size="20">Ref.Chassis</text>
<text x="362.9 373.9 385.1 396.2 407.2 418.4 429.4 440.6 451.6 462.8" y="1219.4" font-size="20">Electrical</text>
<text x="362.9 373.9 385.1 396.2 407.2 418.4 429.4 440.6 451.6" y="1240.4" font-size="20">Equipment</text>
<text x="719.3 730.4 741.5 752.6 763.8 774.8 785.9 797 808.1 819.2 830.3" y="1312.4" font-size="20">Ref.Chassis</text>
<text x="764.8 775.9 787 798.1 809.2 820.3 831.4 842.5 853.6 864.8" y="1333" font-size="20">Electrical</text>
<text x="764.8 775.9 787 798.1 809.2 820.3 831.4 842.5 853.6" y="1353.4" font-size="20">Equipment</text>
</svg>
</body></html>
